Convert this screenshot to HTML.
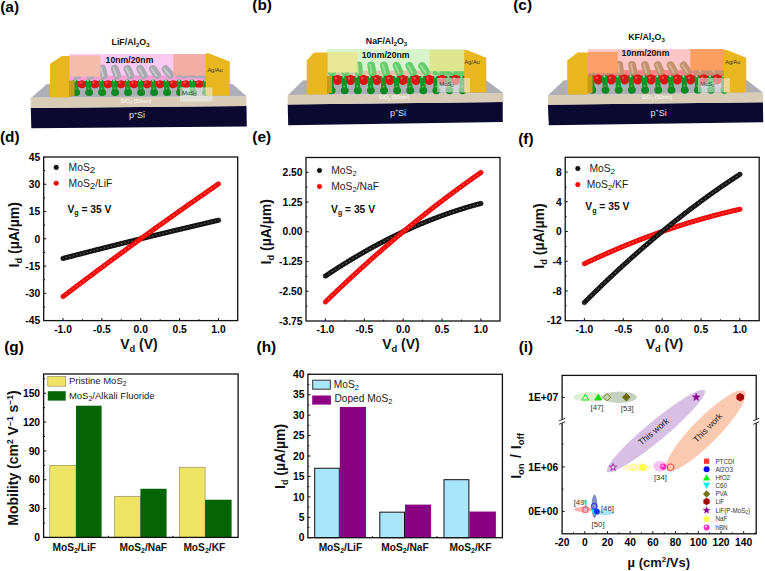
<!DOCTYPE html>
<html><head><meta charset="utf-8"><style>
html,body{margin:0;padding:0;background:#fff;width:765px;height:571px;overflow:hidden}
svg{display:block}
text{font-family:"Liberation Sans",sans-serif}
</style></head><body>
<svg width="765" height="571" viewBox="0 0 765 571">
<rect width="765" height="571" fill="#fff"/>
<text transform="translate(0.20,11.75) scale(1.1,1)" font-size="14" font-family="Liberation Sans" font-weight="bold" fill="#000">(a)</text>
<text transform="translate(252.30,10.10) scale(1.1,1)" font-size="14" font-family="Liberation Sans" font-weight="bold" fill="#000">(b)</text>
<text transform="translate(513.20,9.90) scale(1.1,1)" font-size="14" font-family="Liberation Sans" font-weight="bold" fill="#000">(c)</text>
<text transform="translate(-0.10,141.60) scale(1.1,1)" font-size="14" font-family="Liberation Sans" font-weight="bold" fill="#000">(d)</text>
<text transform="translate(252.30,141.70) scale(1.1,1)" font-size="14" font-family="Liberation Sans" font-weight="bold" fill="#000">(e)</text>
<text transform="translate(518.20,143.90) scale(1.1,1)" font-size="14" font-family="Liberation Sans" font-weight="bold" fill="#000">(f)</text>
<text transform="translate(4.20,351.60) scale(1.1,1)" font-size="14" font-family="Liberation Sans" font-weight="bold" fill="#000">(g)</text>
<text transform="translate(256.60,351.60) scale(1.1,1)" font-size="14" font-family="Liberation Sans" font-weight="bold" fill="#000">(h)</text>
<text transform="translate(518.70,351.60) scale(1.1,1)" font-size="14" font-family="Liberation Sans" font-weight="bold" fill="#000">(i)</text>
<polygon points="30.80,107.90 246.50,106.00 246.80,126.50 31.30,128.20" fill="#0c0930" />
<polygon points="30.80,97.60 246.50,96.30 246.50,106.00 30.80,107.90" fill="#d8ccb6" />
<polygon points="47.00,83.90 232.50,83.90 246.50,96.30 31.50,97.60" fill="#aeaeb6" />
<rect x="69.5" y="54.0" width="136.5" height="30.0" fill="#f9c9f2"/>
<rect x="69.5" y="75.5" width="144.0" height="5" fill="#f090c8" opacity="0.75"/>
<line x1="178" y1="74.5" x2="205" y2="76.0" stroke="#a9a9b2" stroke-width="5" stroke-linecap="round"/>
<g transform="translate(77.00,72.0) rotate(-5.0)"><rect x="-3.9" y="-7.5" width="7.8" height="15" rx="3.9" fill="#a9a9b2"/><rect x="-1.9" y="-5.6" width="2" height="10.5" rx="1" fill="#e0e0e8" opacity="0.55"/></g>
<g transform="translate(90.00,72.0) rotate(-10.0)"><rect x="-3.9" y="-7.5" width="7.8" height="15" rx="3.9" fill="#a9a9b2"/><rect x="-1.9" y="-5.6" width="2" height="10.5" rx="1" fill="#e0e0e8" opacity="0.55"/></g>
<g transform="translate(103.00,72.0) rotate(-15.0)"><rect x="-3.9" y="-7.5" width="7.8" height="15" rx="3.9" fill="#a9a9b2"/><rect x="-1.9" y="-5.6" width="2" height="10.5" rx="1" fill="#e0e0e8" opacity="0.55"/></g>
<g transform="translate(116.00,72.0) rotate(-20.0)"><rect x="-3.9" y="-7.5" width="7.8" height="15" rx="3.9" fill="#a9a9b2"/><rect x="-1.9" y="-5.6" width="2" height="10.5" rx="1" fill="#e0e0e8" opacity="0.55"/></g>
<g transform="translate(129.00,72.0) rotate(-25.0)"><rect x="-3.9" y="-7.5" width="7.8" height="15" rx="3.9" fill="#a9a9b2"/><rect x="-1.9" y="-5.6" width="2" height="10.5" rx="1" fill="#e0e0e8" opacity="0.55"/></g>
<g transform="translate(142.00,72.0) rotate(-30.0)"><rect x="-3.9" y="-7.5" width="7.8" height="15" rx="3.9" fill="#a9a9b2"/><rect x="-1.9" y="-5.6" width="2" height="10.5" rx="1" fill="#e0e0e8" opacity="0.55"/></g>
<g transform="translate(155.00,72.0) rotate(-35.0)"><rect x="-3.9" y="-7.5" width="7.8" height="15" rx="3.9" fill="#a9a9b2"/><rect x="-1.9" y="-5.6" width="2" height="10.5" rx="1" fill="#e0e0e8" opacity="0.55"/></g>
<g transform="translate(168.00,72.0) rotate(-40.0)"><rect x="-3.9" y="-7.5" width="7.8" height="15" rx="3.9" fill="#a9a9b2"/><rect x="-1.9" y="-5.6" width="2" height="10.5" rx="1" fill="#e0e0e8" opacity="0.55"/></g>
<g transform="translate(181.00,72.0) rotate(-45.0)"><rect x="-3.9" y="-7.5" width="7.8" height="15" rx="3.9" fill="#a9a9b2"/><rect x="-1.9" y="-5.6" width="2" height="10.5" rx="1" fill="#e0e0e8" opacity="0.55"/></g>
<g transform="translate(194.00,72.0) rotate(-50.0)"><rect x="-3.9" y="-7.5" width="7.8" height="15" rx="3.9" fill="#a9a9b2"/><rect x="-1.9" y="-5.6" width="2" height="10.5" rx="1" fill="#e0e0e8" opacity="0.55"/></g>
<g transform="translate(207.00,72.0) rotate(-55.0)"><rect x="-3.9" y="-7.5" width="7.8" height="15" rx="3.9" fill="#a9a9b2"/><rect x="-1.9" y="-5.6" width="2" height="10.5" rx="1" fill="#e0e0e8" opacity="0.55"/></g>
<rect x="70.5" y="81.0" width="142.0" height="5.5" rx="2" fill="#cc1010"/>
<ellipse cx="82.00" cy="84.2" rx="4.6" ry="4.0" fill="#d81414"/>
<circle cx="80.50" cy="82.5" r="1.2" fill="#f05050"/>
<ellipse cx="95.00" cy="84.2" rx="4.6" ry="4.0" fill="#d81414"/>
<circle cx="93.50" cy="82.5" r="1.2" fill="#f05050"/>
<ellipse cx="108.00" cy="84.2" rx="4.6" ry="4.0" fill="#d81414"/>
<circle cx="106.50" cy="82.5" r="1.2" fill="#f05050"/>
<ellipse cx="121.00" cy="84.2" rx="4.6" ry="4.0" fill="#d81414"/>
<circle cx="119.50" cy="82.5" r="1.2" fill="#f05050"/>
<ellipse cx="134.00" cy="84.2" rx="4.6" ry="4.0" fill="#d81414"/>
<circle cx="132.50" cy="82.5" r="1.2" fill="#f05050"/>
<ellipse cx="147.00" cy="84.2" rx="4.6" ry="4.0" fill="#d81414"/>
<circle cx="145.50" cy="82.5" r="1.2" fill="#f05050"/>
<ellipse cx="160.00" cy="84.2" rx="4.6" ry="4.0" fill="#d81414"/>
<circle cx="158.50" cy="82.5" r="1.2" fill="#f05050"/>
<ellipse cx="173.00" cy="84.2" rx="4.6" ry="4.0" fill="#d81414"/>
<circle cx="171.50" cy="82.5" r="1.2" fill="#f05050"/>
<ellipse cx="186.00" cy="84.2" rx="4.6" ry="4.0" fill="#d81414"/>
<circle cx="184.50" cy="82.5" r="1.2" fill="#f05050"/>
<ellipse cx="199.00" cy="84.2" rx="4.6" ry="4.0" fill="#d81414"/>
<circle cx="197.50" cy="82.5" r="1.2" fill="#f05050"/>
<ellipse cx="212.00" cy="84.2" rx="4.6" ry="4.0" fill="#d81414"/>
<circle cx="210.50" cy="82.5" r="1.2" fill="#f05050"/>
<line x1="75.20" y1="82.0" x2="76.00" y2="90.5" stroke="#139526" stroke-width="5.2" stroke-linecap="round"/>
<ellipse cx="76.10" cy="92.5" rx="4.0" ry="3.6" fill="#0f8a22"/>
<circle cx="75.70" cy="88.5" r="1" fill="#50c060" opacity="0.8"/>
<circle cx="74.90" cy="80.5" r="1.1" fill="#fff" opacity="0.6"/>
<line x1="88.20" y1="82.0" x2="89.00" y2="90.5" stroke="#139526" stroke-width="5.2" stroke-linecap="round"/>
<ellipse cx="89.10" cy="92.5" rx="4.0" ry="3.6" fill="#0f8a22"/>
<circle cx="88.70" cy="88.5" r="1" fill="#50c060" opacity="0.8"/>
<circle cx="87.90" cy="80.5" r="1.1" fill="#fff" opacity="0.6"/>
<line x1="101.20" y1="82.0" x2="102.00" y2="90.5" stroke="#139526" stroke-width="5.2" stroke-linecap="round"/>
<ellipse cx="102.10" cy="92.5" rx="4.0" ry="3.6" fill="#0f8a22"/>
<circle cx="101.70" cy="88.5" r="1" fill="#50c060" opacity="0.8"/>
<circle cx="100.90" cy="80.5" r="1.1" fill="#fff" opacity="0.6"/>
<line x1="114.20" y1="82.0" x2="115.00" y2="90.5" stroke="#139526" stroke-width="5.2" stroke-linecap="round"/>
<ellipse cx="115.10" cy="92.5" rx="4.0" ry="3.6" fill="#0f8a22"/>
<circle cx="114.70" cy="88.5" r="1" fill="#50c060" opacity="0.8"/>
<circle cx="113.90" cy="80.5" r="1.1" fill="#fff" opacity="0.6"/>
<line x1="127.20" y1="82.0" x2="128.00" y2="90.5" stroke="#139526" stroke-width="5.2" stroke-linecap="round"/>
<ellipse cx="128.10" cy="92.5" rx="4.0" ry="3.6" fill="#0f8a22"/>
<circle cx="127.70" cy="88.5" r="1" fill="#50c060" opacity="0.8"/>
<circle cx="126.90" cy="80.5" r="1.1" fill="#fff" opacity="0.6"/>
<line x1="140.20" y1="82.0" x2="141.00" y2="90.5" stroke="#139526" stroke-width="5.2" stroke-linecap="round"/>
<ellipse cx="141.10" cy="92.5" rx="4.0" ry="3.6" fill="#0f8a22"/>
<circle cx="140.70" cy="88.5" r="1" fill="#50c060" opacity="0.8"/>
<circle cx="139.90" cy="80.5" r="1.1" fill="#fff" opacity="0.6"/>
<line x1="153.20" y1="82.0" x2="154.00" y2="90.5" stroke="#139526" stroke-width="5.2" stroke-linecap="round"/>
<ellipse cx="154.10" cy="92.5" rx="4.0" ry="3.6" fill="#0f8a22"/>
<circle cx="153.70" cy="88.5" r="1" fill="#50c060" opacity="0.8"/>
<circle cx="152.90" cy="80.5" r="1.1" fill="#fff" opacity="0.6"/>
<line x1="166.20" y1="82.0" x2="167.00" y2="90.5" stroke="#139526" stroke-width="5.2" stroke-linecap="round"/>
<ellipse cx="167.10" cy="92.5" rx="4.0" ry="3.6" fill="#0f8a22"/>
<circle cx="166.70" cy="88.5" r="1" fill="#50c060" opacity="0.8"/>
<circle cx="165.90" cy="80.5" r="1.1" fill="#fff" opacity="0.6"/>
<line x1="179.20" y1="82.0" x2="180.00" y2="90.5" stroke="#139526" stroke-width="5.2" stroke-linecap="round"/>
<ellipse cx="180.10" cy="92.5" rx="4.0" ry="3.6" fill="#0f8a22"/>
<circle cx="179.70" cy="88.5" r="1" fill="#50c060" opacity="0.8"/>
<circle cx="178.90" cy="80.5" r="1.1" fill="#fff" opacity="0.6"/>
<line x1="192.20" y1="82.0" x2="193.00" y2="90.5" stroke="#139526" stroke-width="5.2" stroke-linecap="round"/>
<ellipse cx="193.10" cy="92.5" rx="4.0" ry="3.6" fill="#0f8a22"/>
<circle cx="192.70" cy="88.5" r="1" fill="#50c060" opacity="0.8"/>
<circle cx="191.90" cy="80.5" r="1.1" fill="#fff" opacity="0.6"/>
<line x1="205.20" y1="82.0" x2="206.00" y2="90.5" stroke="#139526" stroke-width="5.2" stroke-linecap="round"/>
<ellipse cx="206.10" cy="92.5" rx="4.0" ry="3.6" fill="#0f8a22"/>
<circle cx="205.70" cy="88.5" r="1" fill="#50c060" opacity="0.8"/>
<circle cx="204.90" cy="80.5" r="1.1" fill="#fff" opacity="0.6"/>
<rect x="69.3" y="55.5" width="31.10000000000001" height="21.0" fill="#f5bda9"/>
<rect x="173.3" y="54.1" width="33.19999999999999" height="21.699999999999996" fill="#f2aca2"/>
<polygon points="50.10,63.70 61.80,55.90 69.60,55.90 69.60,97.40 50.10,97.40" fill="#e8b61e" />
<polygon points="205.70,53.30 208.50,53.30 229.80,61.60 229.80,95.70 205.70,95.70" fill="#e8b61e" />
<polygon points="69.00,80.50 74.50,80.50 74.50,95.80 69.00,96.70" fill="#c99a12" />
<rect x="180.0" y="87.4" width="32.400000000000006" height="14.199999999999989" fill="#f0f0ee" opacity="0.55"/>
<text x="182.0" y="95.0" font-size="6" font-family="Liberation Sans" fill="#444">MoS<tspan font-size="4.2" dy="1.4">2</tspan></text>
<text x="207.4" y="72.3" font-size="5.6" font-family="Liberation Sans" fill="#333">Ag/Au</text>
<text x="136" y="103.0" font-size="5.6" font-family="Liberation Sans" fill="#fff" text-anchor="middle">SiO<tspan font-size="4" dy="1.2">2</tspan><tspan dy="-1.2"> (50nm)</tspan></text>
<text x="137.0" y="118.2" font-size="9" font-family="Liberation Sans" fill="#e4e2f4" text-anchor="middle">p<tspan font-size="5.5" dy="-3.3">+</tspan><tspan dy="3.3">Si</tspan></text>
<text x="130.5" y="45.2" font-size="8.8" font-family="Liberation Sans" font-weight="bold" fill="#111" text-anchor="middle">LiF/Al<tspan font-size="6" dy="2">2</tspan><tspan dy="-2">O</tspan><tspan font-size="6" dy="2">3</tspan></text>
<text x="129.5" y="62.6" font-size="8.7" font-family="Liberation Sans" font-weight="bold" fill="#111" text-anchor="middle">10nm/20nm</text>
<polygon points="287.70,104.60 502.70,102.10 502.80,122.10 288.20,125.20" fill="#0c0930" />
<polygon points="287.70,95.00 503.30,92.90 503.30,102.10 287.70,104.60" fill="#d8ccb6" />
<polygon points="303.30,80.20 486.00,80.20 503.30,92.90 288.00,95.00" fill="#aeaeb6" />
<rect x="327" y="49.0" width="138" height="32.0" fill="#d8f4cc"/>
<rect x="325.0" y="70.6" width="145.0" height="5" fill="#e0b8a0" opacity="0.75"/>
<line x1="435" y1="72.5" x2="466" y2="74.0" stroke="#66cc6c" stroke-width="5" stroke-linecap="round"/>
<g transform="translate(332.50,69.0) rotate(10.0)"><rect x="-3.9" y="-7.5" width="7.8" height="15" rx="3.9" fill="#66cc6c"/><rect x="-1.9" y="-5.6" width="2" height="10.5" rx="1" fill="#b8f0b8" opacity="0.55"/></g>
<g transform="translate(345.60,69.0) rotate(3.5)"><rect x="-3.9" y="-7.5" width="7.8" height="15" rx="3.9" fill="#66cc6c"/><rect x="-1.9" y="-5.6" width="2" height="10.5" rx="1" fill="#b8f0b8" opacity="0.55"/></g>
<g transform="translate(358.70,69.0) rotate(-3.0)"><rect x="-3.9" y="-7.5" width="7.8" height="15" rx="3.9" fill="#66cc6c"/><rect x="-1.9" y="-5.6" width="2" height="10.5" rx="1" fill="#b8f0b8" opacity="0.55"/></g>
<g transform="translate(371.80,69.0) rotate(-9.5)"><rect x="-3.9" y="-7.5" width="7.8" height="15" rx="3.9" fill="#66cc6c"/><rect x="-1.9" y="-5.6" width="2" height="10.5" rx="1" fill="#b8f0b8" opacity="0.55"/></g>
<g transform="translate(384.90,69.0) rotate(-16.0)"><rect x="-3.9" y="-7.5" width="7.8" height="15" rx="3.9" fill="#66cc6c"/><rect x="-1.9" y="-5.6" width="2" height="10.5" rx="1" fill="#b8f0b8" opacity="0.55"/></g>
<g transform="translate(398.00,69.0) rotate(-22.5)"><rect x="-3.9" y="-7.5" width="7.8" height="15" rx="3.9" fill="#66cc6c"/><rect x="-1.9" y="-5.6" width="2" height="10.5" rx="1" fill="#b8f0b8" opacity="0.55"/></g>
<g transform="translate(411.10,69.0) rotate(-29.0)"><rect x="-3.9" y="-7.5" width="7.8" height="15" rx="3.9" fill="#66cc6c"/><rect x="-1.9" y="-5.6" width="2" height="10.5" rx="1" fill="#b8f0b8" opacity="0.55"/></g>
<g transform="translate(424.20,69.0) rotate(-35.5)"><rect x="-3.9" y="-7.5" width="7.8" height="15" rx="3.9" fill="#66cc6c"/><rect x="-1.9" y="-5.6" width="2" height="10.5" rx="1" fill="#b8f0b8" opacity="0.55"/></g>
<g transform="translate(437.30,69.0) rotate(-42.0)"><rect x="-3.9" y="-7.5" width="7.8" height="15" rx="3.9" fill="#66cc6c"/><rect x="-1.9" y="-5.6" width="2" height="10.5" rx="1" fill="#b8f0b8" opacity="0.55"/></g>
<g transform="translate(450.40,69.0) rotate(-48.5)"><rect x="-3.9" y="-7.5" width="7.8" height="15" rx="3.9" fill="#66cc6c"/><rect x="-1.9" y="-5.6" width="2" height="10.5" rx="1" fill="#b8f0b8" opacity="0.55"/></g>
<g transform="translate(463.50,69.0) rotate(-55.0)"><rect x="-3.9" y="-7.5" width="7.8" height="15" rx="3.9" fill="#66cc6c"/><rect x="-1.9" y="-5.6" width="2" height="10.5" rx="1" fill="#b8f0b8" opacity="0.55"/></g>
<rect x="326.0" y="76.1" width="143.0" height="6.4" rx="2" fill="#cc1010"/>
<ellipse cx="337.50" cy="79.89999999999999" rx="4.6" ry="5.2" fill="#d81414"/>
<circle cx="336.00" cy="78.19999999999999" r="1.2" fill="#f05050"/>
<ellipse cx="350.60" cy="79.89999999999999" rx="4.6" ry="5.2" fill="#d81414"/>
<circle cx="349.10" cy="78.19999999999999" r="1.2" fill="#f05050"/>
<ellipse cx="363.70" cy="79.89999999999999" rx="4.6" ry="5.2" fill="#d81414"/>
<circle cx="362.20" cy="78.19999999999999" r="1.2" fill="#f05050"/>
<ellipse cx="376.80" cy="79.89999999999999" rx="4.6" ry="5.2" fill="#d81414"/>
<circle cx="375.30" cy="78.19999999999999" r="1.2" fill="#f05050"/>
<ellipse cx="389.90" cy="79.89999999999999" rx="4.6" ry="5.2" fill="#d81414"/>
<circle cx="388.40" cy="78.19999999999999" r="1.2" fill="#f05050"/>
<ellipse cx="403.00" cy="79.89999999999999" rx="4.6" ry="5.2" fill="#d81414"/>
<circle cx="401.50" cy="78.19999999999999" r="1.2" fill="#f05050"/>
<ellipse cx="416.10" cy="79.89999999999999" rx="4.6" ry="5.2" fill="#d81414"/>
<circle cx="414.60" cy="78.19999999999999" r="1.2" fill="#f05050"/>
<ellipse cx="429.20" cy="79.89999999999999" rx="4.6" ry="5.2" fill="#d81414"/>
<circle cx="427.70" cy="78.19999999999999" r="1.2" fill="#f05050"/>
<ellipse cx="442.30" cy="79.89999999999999" rx="4.6" ry="5.2" fill="#d81414"/>
<circle cx="440.80" cy="78.19999999999999" r="1.2" fill="#f05050"/>
<ellipse cx="455.40" cy="79.89999999999999" rx="4.6" ry="5.2" fill="#d81414"/>
<circle cx="453.90" cy="78.19999999999999" r="1.2" fill="#f05050"/>
<ellipse cx="468.50" cy="79.89999999999999" rx="4.6" ry="5.2" fill="#d81414"/>
<circle cx="467.00" cy="78.19999999999999" r="1.2" fill="#f05050"/>
<line x1="330.70" y1="78.3" x2="331.50" y2="88.6" stroke="#139526" stroke-width="5.2" stroke-linecap="round"/>
<ellipse cx="331.60" cy="90.6" rx="4.0" ry="3.6" fill="#0f8a22"/>
<circle cx="331.20" cy="86.6" r="1" fill="#50c060" opacity="0.8"/>
<circle cx="330.40" cy="76.8" r="1.1" fill="#fff" opacity="0.6"/>
<line x1="343.80" y1="78.3" x2="344.60" y2="88.6" stroke="#139526" stroke-width="5.2" stroke-linecap="round"/>
<ellipse cx="344.70" cy="90.6" rx="4.0" ry="3.6" fill="#0f8a22"/>
<circle cx="344.30" cy="86.6" r="1" fill="#50c060" opacity="0.8"/>
<circle cx="343.50" cy="76.8" r="1.1" fill="#fff" opacity="0.6"/>
<line x1="356.90" y1="78.3" x2="357.70" y2="88.6" stroke="#139526" stroke-width="5.2" stroke-linecap="round"/>
<ellipse cx="357.80" cy="90.6" rx="4.0" ry="3.6" fill="#0f8a22"/>
<circle cx="357.40" cy="86.6" r="1" fill="#50c060" opacity="0.8"/>
<circle cx="356.60" cy="76.8" r="1.1" fill="#fff" opacity="0.6"/>
<line x1="370.00" y1="78.3" x2="370.80" y2="88.6" stroke="#139526" stroke-width="5.2" stroke-linecap="round"/>
<ellipse cx="370.90" cy="90.6" rx="4.0" ry="3.6" fill="#0f8a22"/>
<circle cx="370.50" cy="86.6" r="1" fill="#50c060" opacity="0.8"/>
<circle cx="369.70" cy="76.8" r="1.1" fill="#fff" opacity="0.6"/>
<line x1="383.10" y1="78.3" x2="383.90" y2="88.6" stroke="#139526" stroke-width="5.2" stroke-linecap="round"/>
<ellipse cx="384.00" cy="90.6" rx="4.0" ry="3.6" fill="#0f8a22"/>
<circle cx="383.60" cy="86.6" r="1" fill="#50c060" opacity="0.8"/>
<circle cx="382.80" cy="76.8" r="1.1" fill="#fff" opacity="0.6"/>
<line x1="396.20" y1="78.3" x2="397.00" y2="88.6" stroke="#139526" stroke-width="5.2" stroke-linecap="round"/>
<ellipse cx="397.10" cy="90.6" rx="4.0" ry="3.6" fill="#0f8a22"/>
<circle cx="396.70" cy="86.6" r="1" fill="#50c060" opacity="0.8"/>
<circle cx="395.90" cy="76.8" r="1.1" fill="#fff" opacity="0.6"/>
<line x1="409.30" y1="78.3" x2="410.10" y2="88.6" stroke="#139526" stroke-width="5.2" stroke-linecap="round"/>
<ellipse cx="410.20" cy="90.6" rx="4.0" ry="3.6" fill="#0f8a22"/>
<circle cx="409.80" cy="86.6" r="1" fill="#50c060" opacity="0.8"/>
<circle cx="409.00" cy="76.8" r="1.1" fill="#fff" opacity="0.6"/>
<line x1="422.40" y1="78.3" x2="423.20" y2="88.6" stroke="#139526" stroke-width="5.2" stroke-linecap="round"/>
<ellipse cx="423.30" cy="90.6" rx="4.0" ry="3.6" fill="#0f8a22"/>
<circle cx="422.90" cy="86.6" r="1" fill="#50c060" opacity="0.8"/>
<circle cx="422.10" cy="76.8" r="1.1" fill="#fff" opacity="0.6"/>
<line x1="435.50" y1="78.3" x2="436.30" y2="88.6" stroke="#139526" stroke-width="5.2" stroke-linecap="round"/>
<ellipse cx="436.40" cy="90.6" rx="4.0" ry="3.6" fill="#0f8a22"/>
<circle cx="436.00" cy="86.6" r="1" fill="#50c060" opacity="0.8"/>
<circle cx="435.20" cy="76.8" r="1.1" fill="#fff" opacity="0.6"/>
<line x1="448.60" y1="78.3" x2="449.40" y2="88.6" stroke="#139526" stroke-width="5.2" stroke-linecap="round"/>
<ellipse cx="449.50" cy="90.6" rx="4.0" ry="3.6" fill="#0f8a22"/>
<circle cx="449.10" cy="86.6" r="1" fill="#50c060" opacity="0.8"/>
<circle cx="448.30" cy="76.8" r="1.1" fill="#fff" opacity="0.6"/>
<line x1="461.70" y1="78.3" x2="462.50" y2="88.6" stroke="#139526" stroke-width="5.2" stroke-linecap="round"/>
<ellipse cx="462.60" cy="90.6" rx="4.0" ry="3.6" fill="#0f8a22"/>
<circle cx="462.20" cy="86.6" r="1" fill="#50c060" opacity="0.8"/>
<circle cx="461.40" cy="76.8" r="1.1" fill="#fff" opacity="0.6"/>
<rect x="327.2" y="52.0" width="30.30000000000001" height="20.5" fill="#e7e795"/>
<rect x="429.5" y="50.0" width="34.89999999999998" height="21.200000000000003" fill="#dde58e"/>
<polygon points="306.70,60.40 314.00,52.50 327.60,52.50 327.60,94.50 306.70,94.50" fill="#e8b61e" />
<polygon points="464.20,50.00 467.00,50.00 486.30,57.80 486.30,92.40 464.20,92.40" fill="#e8b61e" />
<polygon points="327.00,76.00 332.00,76.00 332.00,92.80 327.00,93.40" fill="#c99a12" />
<rect x="437.2" y="78.0" width="32.80000000000001" height="14.400000000000006" fill="#f0f0ee" opacity="0.55"/>
<text x="439.2" y="85.6" font-size="6" font-family="Liberation Sans" fill="#444">MoS<tspan font-size="4.2" dy="1.4">2</tspan></text>
<text x="464.5" y="64.2" font-size="5.6" font-family="Liberation Sans" fill="#333">Ag/Au</text>
<text x="394.2" y="99.3" font-size="5.6" font-family="Liberation Sans" fill="#fff" text-anchor="middle">SiO<tspan font-size="4" dy="1.2">2</tspan><tspan dy="-1.2"> (50nm)</tspan></text>
<text x="398.0" y="115.6" font-size="9" font-family="Liberation Sans" fill="#e4e2f4" text-anchor="middle">p<tspan font-size="5.5" dy="-3.3">+</tspan><tspan dy="3.3">Si</tspan></text>
<text x="386.5" y="44.2" font-size="8.8" font-family="Liberation Sans" font-weight="bold" fill="#111" text-anchor="middle">NaF/Al<tspan font-size="6" dy="2">2</tspan><tspan dy="-2">O</tspan><tspan font-size="6" dy="2">3</tspan></text>
<text x="385.6" y="57.8" font-size="8.7" font-family="Liberation Sans" font-weight="bold" fill="#111" text-anchor="middle">10nm/20nm</text>
<polygon points="547.90,104.80 762.90,102.20 763.20,122.30 548.80,125.20" fill="#0c0930" />
<polygon points="547.90,95.30 762.90,92.60 762.90,102.20 547.90,104.80" fill="#d8ccb6" />
<polygon points="563.90,80.20 747.00,80.20 762.90,92.60 548.00,95.30" fill="#aeaeb6" />
<rect x="588" y="49.2" width="137" height="31.799999999999997" fill="#fdc6c6"/>
<rect x="585.7" y="70.1" width="146.0" height="5" fill="#f07070" opacity="0.75"/>
<line x1="696" y1="72.0" x2="726" y2="73.5" stroke="#c49070" stroke-width="5" stroke-linecap="round"/>
<g transform="translate(593.20,68.4) rotate(5.0)"><rect x="-3.9" y="-7.5" width="7.8" height="15" rx="3.9" fill="#c49070"/><rect x="-1.9" y="-5.6" width="2" height="10.5" rx="1" fill="#e8c8b0" opacity="0.55"/></g>
<g transform="translate(606.40,68.4) rotate(-0.5)"><rect x="-3.9" y="-7.5" width="7.8" height="15" rx="3.9" fill="#c49070"/><rect x="-1.9" y="-5.6" width="2" height="10.5" rx="1" fill="#e8c8b0" opacity="0.55"/></g>
<g transform="translate(619.60,68.4) rotate(-6.0)"><rect x="-3.9" y="-7.5" width="7.8" height="15" rx="3.9" fill="#c49070"/><rect x="-1.9" y="-5.6" width="2" height="10.5" rx="1" fill="#e8c8b0" opacity="0.55"/></g>
<g transform="translate(632.80,68.4) rotate(-11.5)"><rect x="-3.9" y="-7.5" width="7.8" height="15" rx="3.9" fill="#c49070"/><rect x="-1.9" y="-5.6" width="2" height="10.5" rx="1" fill="#e8c8b0" opacity="0.55"/></g>
<g transform="translate(646.00,68.4) rotate(-17.0)"><rect x="-3.9" y="-7.5" width="7.8" height="15" rx="3.9" fill="#c49070"/><rect x="-1.9" y="-5.6" width="2" height="10.5" rx="1" fill="#e8c8b0" opacity="0.55"/></g>
<g transform="translate(659.20,68.4) rotate(-22.5)"><rect x="-3.9" y="-7.5" width="7.8" height="15" rx="3.9" fill="#c49070"/><rect x="-1.9" y="-5.6" width="2" height="10.5" rx="1" fill="#e8c8b0" opacity="0.55"/></g>
<g transform="translate(672.40,68.4) rotate(-28.0)"><rect x="-3.9" y="-7.5" width="7.8" height="15" rx="3.9" fill="#c49070"/><rect x="-1.9" y="-5.6" width="2" height="10.5" rx="1" fill="#e8c8b0" opacity="0.55"/></g>
<g transform="translate(685.60,68.4) rotate(-33.5)"><rect x="-3.9" y="-7.5" width="7.8" height="15" rx="3.9" fill="#c49070"/><rect x="-1.9" y="-5.6" width="2" height="10.5" rx="1" fill="#e8c8b0" opacity="0.55"/></g>
<g transform="translate(698.80,68.4) rotate(-39.0)"><rect x="-3.9" y="-7.5" width="7.8" height="15" rx="3.9" fill="#c49070"/><rect x="-1.9" y="-5.6" width="2" height="10.5" rx="1" fill="#e8c8b0" opacity="0.55"/></g>
<g transform="translate(712.00,68.4) rotate(-44.5)"><rect x="-3.9" y="-7.5" width="7.8" height="15" rx="3.9" fill="#c49070"/><rect x="-1.9" y="-5.6" width="2" height="10.5" rx="1" fill="#e8c8b0" opacity="0.55"/></g>
<g transform="translate(725.20,68.4) rotate(-50.0)"><rect x="-3.9" y="-7.5" width="7.8" height="15" rx="3.9" fill="#c49070"/><rect x="-1.9" y="-5.6" width="2" height="10.5" rx="1" fill="#e8c8b0" opacity="0.55"/></g>
<rect x="586.7" y="75.6" width="144.0" height="6.4" rx="2" fill="#cc1010"/>
<ellipse cx="598.20" cy="79.39999999999999" rx="4.6" ry="5.2" fill="#d81414"/>
<circle cx="596.70" cy="77.69999999999999" r="1.2" fill="#f05050"/>
<ellipse cx="611.40" cy="79.39999999999999" rx="4.6" ry="5.2" fill="#d81414"/>
<circle cx="609.90" cy="77.69999999999999" r="1.2" fill="#f05050"/>
<ellipse cx="624.60" cy="79.39999999999999" rx="4.6" ry="5.2" fill="#d81414"/>
<circle cx="623.10" cy="77.69999999999999" r="1.2" fill="#f05050"/>
<ellipse cx="637.80" cy="79.39999999999999" rx="4.6" ry="5.2" fill="#d81414"/>
<circle cx="636.30" cy="77.69999999999999" r="1.2" fill="#f05050"/>
<ellipse cx="651.00" cy="79.39999999999999" rx="4.6" ry="5.2" fill="#d81414"/>
<circle cx="649.50" cy="77.69999999999999" r="1.2" fill="#f05050"/>
<ellipse cx="664.20" cy="79.39999999999999" rx="4.6" ry="5.2" fill="#d81414"/>
<circle cx="662.70" cy="77.69999999999999" r="1.2" fill="#f05050"/>
<ellipse cx="677.40" cy="79.39999999999999" rx="4.6" ry="5.2" fill="#d81414"/>
<circle cx="675.90" cy="77.69999999999999" r="1.2" fill="#f05050"/>
<ellipse cx="690.60" cy="79.39999999999999" rx="4.6" ry="5.2" fill="#d81414"/>
<circle cx="689.10" cy="77.69999999999999" r="1.2" fill="#f05050"/>
<ellipse cx="703.80" cy="79.39999999999999" rx="4.6" ry="5.2" fill="#d81414"/>
<circle cx="702.30" cy="77.69999999999999" r="1.2" fill="#f05050"/>
<ellipse cx="717.00" cy="79.39999999999999" rx="4.6" ry="5.2" fill="#d81414"/>
<circle cx="715.50" cy="77.69999999999999" r="1.2" fill="#f05050"/>
<ellipse cx="730.20" cy="79.39999999999999" rx="4.6" ry="5.2" fill="#d81414"/>
<circle cx="728.70" cy="77.69999999999999" r="1.2" fill="#f05050"/>
<line x1="591.40" y1="77.8" x2="592.20" y2="88.1" stroke="#139526" stroke-width="5.2" stroke-linecap="round"/>
<ellipse cx="592.30" cy="90.1" rx="4.0" ry="3.6" fill="#0f8a22"/>
<circle cx="591.90" cy="86.1" r="1" fill="#50c060" opacity="0.8"/>
<circle cx="591.10" cy="76.3" r="1.1" fill="#fff" opacity="0.6"/>
<line x1="604.60" y1="77.8" x2="605.40" y2="88.1" stroke="#139526" stroke-width="5.2" stroke-linecap="round"/>
<ellipse cx="605.50" cy="90.1" rx="4.0" ry="3.6" fill="#0f8a22"/>
<circle cx="605.10" cy="86.1" r="1" fill="#50c060" opacity="0.8"/>
<circle cx="604.30" cy="76.3" r="1.1" fill="#fff" opacity="0.6"/>
<line x1="617.80" y1="77.8" x2="618.60" y2="88.1" stroke="#139526" stroke-width="5.2" stroke-linecap="round"/>
<ellipse cx="618.70" cy="90.1" rx="4.0" ry="3.6" fill="#0f8a22"/>
<circle cx="618.30" cy="86.1" r="1" fill="#50c060" opacity="0.8"/>
<circle cx="617.50" cy="76.3" r="1.1" fill="#fff" opacity="0.6"/>
<line x1="631.00" y1="77.8" x2="631.80" y2="88.1" stroke="#139526" stroke-width="5.2" stroke-linecap="round"/>
<ellipse cx="631.90" cy="90.1" rx="4.0" ry="3.6" fill="#0f8a22"/>
<circle cx="631.50" cy="86.1" r="1" fill="#50c060" opacity="0.8"/>
<circle cx="630.70" cy="76.3" r="1.1" fill="#fff" opacity="0.6"/>
<line x1="644.20" y1="77.8" x2="645.00" y2="88.1" stroke="#139526" stroke-width="5.2" stroke-linecap="round"/>
<ellipse cx="645.10" cy="90.1" rx="4.0" ry="3.6" fill="#0f8a22"/>
<circle cx="644.70" cy="86.1" r="1" fill="#50c060" opacity="0.8"/>
<circle cx="643.90" cy="76.3" r="1.1" fill="#fff" opacity="0.6"/>
<line x1="657.40" y1="77.8" x2="658.20" y2="88.1" stroke="#139526" stroke-width="5.2" stroke-linecap="round"/>
<ellipse cx="658.30" cy="90.1" rx="4.0" ry="3.6" fill="#0f8a22"/>
<circle cx="657.90" cy="86.1" r="1" fill="#50c060" opacity="0.8"/>
<circle cx="657.10" cy="76.3" r="1.1" fill="#fff" opacity="0.6"/>
<line x1="670.60" y1="77.8" x2="671.40" y2="88.1" stroke="#139526" stroke-width="5.2" stroke-linecap="round"/>
<ellipse cx="671.50" cy="90.1" rx="4.0" ry="3.6" fill="#0f8a22"/>
<circle cx="671.10" cy="86.1" r="1" fill="#50c060" opacity="0.8"/>
<circle cx="670.30" cy="76.3" r="1.1" fill="#fff" opacity="0.6"/>
<line x1="683.80" y1="77.8" x2="684.60" y2="88.1" stroke="#139526" stroke-width="5.2" stroke-linecap="round"/>
<ellipse cx="684.70" cy="90.1" rx="4.0" ry="3.6" fill="#0f8a22"/>
<circle cx="684.30" cy="86.1" r="1" fill="#50c060" opacity="0.8"/>
<circle cx="683.50" cy="76.3" r="1.1" fill="#fff" opacity="0.6"/>
<line x1="697.00" y1="77.8" x2="697.80" y2="88.1" stroke="#139526" stroke-width="5.2" stroke-linecap="round"/>
<ellipse cx="697.90" cy="90.1" rx="4.0" ry="3.6" fill="#0f8a22"/>
<circle cx="697.50" cy="86.1" r="1" fill="#50c060" opacity="0.8"/>
<circle cx="696.70" cy="76.3" r="1.1" fill="#fff" opacity="0.6"/>
<line x1="710.20" y1="77.8" x2="711.00" y2="88.1" stroke="#139526" stroke-width="5.2" stroke-linecap="round"/>
<ellipse cx="711.10" cy="90.1" rx="4.0" ry="3.6" fill="#0f8a22"/>
<circle cx="710.70" cy="86.1" r="1" fill="#50c060" opacity="0.8"/>
<circle cx="709.90" cy="76.3" r="1.1" fill="#fff" opacity="0.6"/>
<line x1="723.40" y1="77.8" x2="724.20" y2="88.1" stroke="#139526" stroke-width="5.2" stroke-linecap="round"/>
<ellipse cx="724.30" cy="90.1" rx="4.0" ry="3.6" fill="#0f8a22"/>
<circle cx="723.90" cy="86.1" r="1" fill="#50c060" opacity="0.8"/>
<circle cx="723.10" cy="76.3" r="1.1" fill="#fff" opacity="0.6"/>
<rect x="587.8" y="52.0" width="29.90000000000009" height="21.200000000000003" fill="#fb9f68"/>
<rect x="690.3" y="49.1" width="33.700000000000045" height="21.199999999999996" fill="#fb9e62"/>
<polygon points="567.20,60.40 577.60,52.50 588.00,52.50 588.00,94.50 567.20,94.50" fill="#e8b61e" />
<polygon points="724.00,50.00 727.00,50.00 746.20,57.80 746.20,92.40 724.00,92.40" fill="#e8b61e" />
<polygon points="587.50,76.00 592.50,76.00 592.50,92.80 587.50,93.40" fill="#c99a12" />
<rect x="698.0" y="78.0" width="31.799999999999955" height="14.400000000000006" fill="#f0f0ee" opacity="0.55"/>
<text x="700.0" y="85.6" font-size="6" font-family="Liberation Sans" fill="#444">MoS<tspan font-size="4.2" dy="1.4">2</tspan></text>
<text x="725.2" y="64.2" font-size="5.6" font-family="Liberation Sans" fill="#333">Ag/Au</text>
<text x="657" y="99.0" font-size="5.6" font-family="Liberation Sans" fill="#fff" text-anchor="middle">SiO<tspan font-size="4" dy="1.2">2</tspan><tspan dy="-1.2"> (50nm)</tspan></text>
<text x="658.7" y="115.6" font-size="9" font-family="Liberation Sans" fill="#e4e2f4" text-anchor="middle">p<tspan font-size="5.5" dy="-3.3">+</tspan><tspan dy="3.3">Si</tspan></text>
<text x="646.5" y="40.2" font-size="8.8" font-family="Liberation Sans" font-weight="bold" fill="#111" text-anchor="middle">KF/Al<tspan font-size="6" dy="2">2</tspan><tspan dy="-2">O</tspan><tspan font-size="6" dy="2">3</tspan></text>
<text x="645.5" y="55.8" font-size="8.7" font-family="Liberation Sans" font-weight="bold" fill="#111" text-anchor="middle">10nm/20nm</text>
<rect x="43.7" y="157.0" width="194.0" height="163.60000000000002" fill="none" stroke="#111" stroke-width="1.3"/>
<line x1="63.00" y1="320.6" x2="63.00" y2="318.0" stroke="#111" stroke-width="1"/>
<line x1="82.44" y1="320.6" x2="82.44" y2="319.20000000000005" stroke="#111" stroke-width="1"/>
<line x1="101.88" y1="320.6" x2="101.88" y2="318.0" stroke="#111" stroke-width="1"/>
<line x1="121.31" y1="320.6" x2="121.31" y2="319.20000000000005" stroke="#111" stroke-width="1"/>
<line x1="140.75" y1="320.6" x2="140.75" y2="318.0" stroke="#111" stroke-width="1"/>
<line x1="160.19" y1="320.6" x2="160.19" y2="319.20000000000005" stroke="#111" stroke-width="1"/>
<line x1="179.62" y1="320.6" x2="179.62" y2="318.0" stroke="#111" stroke-width="1"/>
<line x1="199.06" y1="320.6" x2="199.06" y2="319.20000000000005" stroke="#111" stroke-width="1"/>
<line x1="218.50" y1="320.6" x2="218.50" y2="318.0" stroke="#111" stroke-width="1"/>
<text x="63.00" y="332.90" font-size="10.3" font-family="Liberation Sans" font-weight="bold" text-anchor="middle" fill="#000" >-1.0</text>
<text x="101.88" y="332.90" font-size="10.3" font-family="Liberation Sans" font-weight="bold" text-anchor="middle" fill="#000" >-0.5</text>
<text x="140.75" y="332.90" font-size="10.3" font-family="Liberation Sans" font-weight="bold" text-anchor="middle" fill="#000" >0.0</text>
<text x="179.62" y="332.90" font-size="10.3" font-family="Liberation Sans" font-weight="bold" text-anchor="middle" fill="#000" >0.5</text>
<text x="218.50" y="332.90" font-size="10.3" font-family="Liberation Sans" font-weight="bold" text-anchor="middle" fill="#000" >1.0</text>
<text x="40.20" y="160.70" font-size="10.3" font-family="Liberation Sans" font-weight="bold" text-anchor="end" fill="#000" >45</text>
<line x1="43.7" y1="170.63" x2="45.1" y2="170.63" stroke="#111" stroke-width="1"/>
<line x1="43.7" y1="184.27" x2="46.300000000000004" y2="184.27" stroke="#111" stroke-width="1"/>
<text x="40.20" y="187.97" font-size="10.3" font-family="Liberation Sans" font-weight="bold" text-anchor="end" fill="#000" >30</text>
<line x1="43.7" y1="197.90" x2="45.1" y2="197.90" stroke="#111" stroke-width="1"/>
<line x1="43.7" y1="211.53" x2="46.300000000000004" y2="211.53" stroke="#111" stroke-width="1"/>
<text x="40.20" y="215.23" font-size="10.3" font-family="Liberation Sans" font-weight="bold" text-anchor="end" fill="#000" >15</text>
<line x1="43.7" y1="225.17" x2="45.1" y2="225.17" stroke="#111" stroke-width="1"/>
<line x1="43.7" y1="238.80" x2="46.300000000000004" y2="238.80" stroke="#111" stroke-width="1"/>
<text x="40.20" y="242.50" font-size="10.3" font-family="Liberation Sans" font-weight="bold" text-anchor="end" fill="#000" >0</text>
<line x1="43.7" y1="252.43" x2="45.1" y2="252.43" stroke="#111" stroke-width="1"/>
<line x1="43.7" y1="266.07" x2="46.300000000000004" y2="266.07" stroke="#111" stroke-width="1"/>
<text x="40.20" y="269.77" font-size="10.3" font-family="Liberation Sans" font-weight="bold" text-anchor="end" fill="#000" >-15</text>
<line x1="43.7" y1="279.70" x2="45.1" y2="279.70" stroke="#111" stroke-width="1"/>
<line x1="43.7" y1="293.33" x2="46.300000000000004" y2="293.33" stroke="#111" stroke-width="1"/>
<text x="40.20" y="297.03" font-size="10.3" font-family="Liberation Sans" font-weight="bold" text-anchor="end" fill="#000" >-30</text>
<line x1="43.7" y1="306.97" x2="45.1" y2="306.97" stroke="#111" stroke-width="1"/>
<text x="40.20" y="324.30" font-size="10.3" font-family="Liberation Sans" font-weight="bold" text-anchor="end" fill="#000" >-45</text>
<g fill="#222" stroke="#000" stroke-width="0.6"><circle cx="63.00" cy="258.43" r="2.25"/><circle cx="64.73" cy="257.98" r="2.25"/><circle cx="66.46" cy="257.54" r="2.25"/><circle cx="68.18" cy="257.09" r="2.25"/><circle cx="69.91" cy="256.64" r="2.25"/><circle cx="71.64" cy="256.20" r="2.25"/><circle cx="73.37" cy="255.75" r="2.25"/><circle cx="75.09" cy="255.31" r="2.25"/><circle cx="76.82" cy="254.86" r="2.25"/><circle cx="78.55" cy="254.42" r="2.25"/><circle cx="80.28" cy="253.98" r="2.25"/><circle cx="82.01" cy="253.53" r="2.25"/><circle cx="83.73" cy="253.09" r="2.25"/><circle cx="85.46" cy="252.65" r="2.25"/><circle cx="87.19" cy="252.21" r="2.25"/><circle cx="88.92" cy="251.77" r="2.25"/><circle cx="90.64" cy="251.33" r="2.25"/><circle cx="92.37" cy="250.89" r="2.25"/><circle cx="94.10" cy="250.45" r="2.25"/><circle cx="95.83" cy="250.01" r="2.25"/><circle cx="97.56" cy="249.57" r="2.25"/><circle cx="99.28" cy="249.13" r="2.25"/><circle cx="101.01" cy="248.70" r="2.25"/><circle cx="102.74" cy="248.26" r="2.25"/><circle cx="104.47" cy="247.83" r="2.25"/><circle cx="106.19" cy="247.39" r="2.25"/><circle cx="107.92" cy="246.96" r="2.25"/><circle cx="109.65" cy="246.52" r="2.25"/><circle cx="111.38" cy="246.09" r="2.25"/><circle cx="113.11" cy="245.66" r="2.25"/><circle cx="114.83" cy="245.22" r="2.25"/><circle cx="116.56" cy="244.79" r="2.25"/><circle cx="118.29" cy="244.36" r="2.25"/><circle cx="120.02" cy="243.93" r="2.25"/><circle cx="121.74" cy="243.50" r="2.25"/><circle cx="123.47" cy="243.07" r="2.25"/><circle cx="125.20" cy="242.64" r="2.25"/><circle cx="126.93" cy="242.21" r="2.25"/><circle cx="128.66" cy="241.78" r="2.25"/><circle cx="130.38" cy="241.35" r="2.25"/><circle cx="132.11" cy="240.93" r="2.25"/><circle cx="133.84" cy="240.50" r="2.25"/><circle cx="135.57" cy="240.07" r="2.25"/><circle cx="137.29" cy="239.65" r="2.25"/><circle cx="139.02" cy="239.22" r="2.25"/><circle cx="140.75" cy="238.80" r="2.25"/><circle cx="142.48" cy="238.38" r="2.25"/><circle cx="144.21" cy="237.95" r="2.25"/><circle cx="145.93" cy="237.53" r="2.25"/><circle cx="147.66" cy="237.11" r="2.25"/><circle cx="149.39" cy="236.69" r="2.25"/><circle cx="151.12" cy="236.26" r="2.25"/><circle cx="152.84" cy="235.84" r="2.25"/><circle cx="154.57" cy="235.42" r="2.25"/><circle cx="156.30" cy="235.00" r="2.25"/><circle cx="158.03" cy="234.59" r="2.25"/><circle cx="159.76" cy="234.17" r="2.25"/><circle cx="161.48" cy="233.75" r="2.25"/><circle cx="163.21" cy="233.33" r="2.25"/><circle cx="164.94" cy="232.91" r="2.25"/><circle cx="166.67" cy="232.50" r="2.25"/><circle cx="168.39" cy="232.08" r="2.25"/><circle cx="170.12" cy="231.67" r="2.25"/><circle cx="171.85" cy="231.25" r="2.25"/><circle cx="173.58" cy="230.84" r="2.25"/><circle cx="175.31" cy="230.42" r="2.25"/><circle cx="177.03" cy="230.01" r="2.25"/><circle cx="178.76" cy="229.60" r="2.25"/><circle cx="180.49" cy="229.19" r="2.25"/><circle cx="182.22" cy="228.78" r="2.25"/><circle cx="183.94" cy="228.36" r="2.25"/><circle cx="185.67" cy="227.95" r="2.25"/><circle cx="187.40" cy="227.54" r="2.25"/><circle cx="189.13" cy="227.13" r="2.25"/><circle cx="190.86" cy="226.73" r="2.25"/><circle cx="192.58" cy="226.32" r="2.25"/><circle cx="194.31" cy="225.91" r="2.25"/><circle cx="196.04" cy="225.50" r="2.25"/><circle cx="197.77" cy="225.10" r="2.25"/><circle cx="199.49" cy="224.69" r="2.25"/><circle cx="201.22" cy="224.28" r="2.25"/><circle cx="202.95" cy="223.88" r="2.25"/><circle cx="204.68" cy="223.48" r="2.25"/><circle cx="206.41" cy="223.07" r="2.25"/><circle cx="208.13" cy="222.67" r="2.25"/><circle cx="209.86" cy="222.26" r="2.25"/><circle cx="211.59" cy="221.86" r="2.25"/><circle cx="213.32" cy="221.46" r="2.25"/><circle cx="215.04" cy="221.06" r="2.25"/><circle cx="216.77" cy="220.66" r="2.25"/><circle cx="218.50" cy="220.26" r="2.25"/></g>
<g fill="#9a9a9a" opacity="0.8"><circle cx="66.46" cy="257.54" r="0.55"/><circle cx="69.91" cy="256.64" r="0.55"/><circle cx="73.37" cy="255.75" r="0.55"/><circle cx="76.82" cy="254.86" r="0.55"/><circle cx="80.28" cy="253.98" r="0.55"/><circle cx="83.73" cy="253.09" r="0.55"/><circle cx="87.19" cy="252.21" r="0.55"/><circle cx="90.64" cy="251.33" r="0.55"/><circle cx="94.10" cy="250.45" r="0.55"/><circle cx="97.56" cy="249.57" r="0.55"/><circle cx="101.01" cy="248.70" r="0.55"/><circle cx="104.47" cy="247.83" r="0.55"/><circle cx="107.92" cy="246.96" r="0.55"/><circle cx="111.38" cy="246.09" r="0.55"/><circle cx="114.83" cy="245.22" r="0.55"/><circle cx="118.29" cy="244.36" r="0.55"/><circle cx="121.74" cy="243.50" r="0.55"/><circle cx="125.20" cy="242.64" r="0.55"/><circle cx="128.66" cy="241.78" r="0.55"/><circle cx="132.11" cy="240.93" r="0.55"/><circle cx="135.57" cy="240.07" r="0.55"/><circle cx="139.02" cy="239.22" r="0.55"/><circle cx="142.48" cy="238.38" r="0.55"/><circle cx="145.93" cy="237.53" r="0.55"/><circle cx="149.39" cy="236.69" r="0.55"/><circle cx="152.84" cy="235.84" r="0.55"/><circle cx="156.30" cy="235.00" r="0.55"/><circle cx="159.76" cy="234.17" r="0.55"/><circle cx="163.21" cy="233.33" r="0.55"/><circle cx="166.67" cy="232.50" r="0.55"/><circle cx="170.12" cy="231.67" r="0.55"/><circle cx="173.58" cy="230.84" r="0.55"/><circle cx="177.03" cy="230.01" r="0.55"/><circle cx="180.49" cy="229.19" r="0.55"/><circle cx="183.94" cy="228.36" r="0.55"/><circle cx="187.40" cy="227.54" r="0.55"/><circle cx="190.86" cy="226.73" r="0.55"/><circle cx="194.31" cy="225.91" r="0.55"/><circle cx="197.77" cy="225.10" r="0.55"/><circle cx="201.22" cy="224.28" r="0.55"/><circle cx="204.68" cy="223.48" r="0.55"/><circle cx="208.13" cy="222.67" r="0.55"/><circle cx="211.59" cy="221.86" r="0.55"/><circle cx="215.04" cy="221.06" r="0.55"/></g>
<g fill="#ff1010" stroke="#e00000" stroke-width="0.6"><circle cx="63.00" cy="296.61" r="2.25"/><circle cx="64.73" cy="295.29" r="2.25"/><circle cx="66.46" cy="293.97" r="2.25"/><circle cx="68.18" cy="292.66" r="2.25"/><circle cx="69.91" cy="291.35" r="2.25"/><circle cx="71.64" cy="290.04" r="2.25"/><circle cx="73.37" cy="288.73" r="2.25"/><circle cx="75.09" cy="287.42" r="2.25"/><circle cx="76.82" cy="286.12" r="2.25"/><circle cx="78.55" cy="284.81" r="2.25"/><circle cx="80.28" cy="283.51" r="2.25"/><circle cx="82.01" cy="282.21" r="2.25"/><circle cx="83.73" cy="280.91" r="2.25"/><circle cx="85.46" cy="279.61" r="2.25"/><circle cx="87.19" cy="278.31" r="2.25"/><circle cx="88.92" cy="277.01" r="2.25"/><circle cx="90.64" cy="275.72" r="2.25"/><circle cx="92.37" cy="274.43" r="2.25"/><circle cx="94.10" cy="273.13" r="2.25"/><circle cx="95.83" cy="271.84" r="2.25"/><circle cx="97.56" cy="270.56" r="2.25"/><circle cx="99.28" cy="269.27" r="2.25"/><circle cx="101.01" cy="267.98" r="2.25"/><circle cx="102.74" cy="266.70" r="2.25"/><circle cx="104.47" cy="265.41" r="2.25"/><circle cx="106.19" cy="264.13" r="2.25"/><circle cx="107.92" cy="262.85" r="2.25"/><circle cx="109.65" cy="261.57" r="2.25"/><circle cx="111.38" cy="260.30" r="2.25"/><circle cx="113.11" cy="259.02" r="2.25"/><circle cx="114.83" cy="257.75" r="2.25"/><circle cx="116.56" cy="256.47" r="2.25"/><circle cx="118.29" cy="255.20" r="2.25"/><circle cx="120.02" cy="253.93" r="2.25"/><circle cx="121.74" cy="252.66" r="2.25"/><circle cx="123.47" cy="251.39" r="2.25"/><circle cx="125.20" cy="250.13" r="2.25"/><circle cx="126.93" cy="248.86" r="2.25"/><circle cx="128.66" cy="247.60" r="2.25"/><circle cx="130.38" cy="246.34" r="2.25"/><circle cx="132.11" cy="245.08" r="2.25"/><circle cx="133.84" cy="243.82" r="2.25"/><circle cx="135.57" cy="242.56" r="2.25"/><circle cx="137.29" cy="241.31" r="2.25"/><circle cx="139.02" cy="240.05" r="2.25"/><circle cx="140.75" cy="238.80" r="2.25"/><circle cx="142.48" cy="237.55" r="2.25"/><circle cx="144.21" cy="236.30" r="2.25"/><circle cx="145.93" cy="235.05" r="2.25"/><circle cx="147.66" cy="233.80" r="2.25"/><circle cx="149.39" cy="232.56" r="2.25"/><circle cx="151.12" cy="231.31" r="2.25"/><circle cx="152.84" cy="230.07" r="2.25"/><circle cx="154.57" cy="228.83" r="2.25"/><circle cx="156.30" cy="227.59" r="2.25"/><circle cx="158.03" cy="226.35" r="2.25"/><circle cx="159.76" cy="225.11" r="2.25"/><circle cx="161.48" cy="223.88" r="2.25"/><circle cx="163.21" cy="222.64" r="2.25"/><circle cx="164.94" cy="221.41" r="2.25"/><circle cx="166.67" cy="220.18" r="2.25"/><circle cx="168.39" cy="218.95" r="2.25"/><circle cx="170.12" cy="217.72" r="2.25"/><circle cx="171.85" cy="216.49" r="2.25"/><circle cx="173.58" cy="215.27" r="2.25"/><circle cx="175.31" cy="214.04" r="2.25"/><circle cx="177.03" cy="212.82" r="2.25"/><circle cx="178.76" cy="211.60" r="2.25"/><circle cx="180.49" cy="210.38" r="2.25"/><circle cx="182.22" cy="209.16" r="2.25"/><circle cx="183.94" cy="207.94" r="2.25"/><circle cx="185.67" cy="206.73" r="2.25"/><circle cx="187.40" cy="205.51" r="2.25"/><circle cx="189.13" cy="204.30" r="2.25"/><circle cx="190.86" cy="203.09" r="2.25"/><circle cx="192.58" cy="201.88" r="2.25"/><circle cx="194.31" cy="200.67" r="2.25"/><circle cx="196.04" cy="199.46" r="2.25"/><circle cx="197.77" cy="198.26" r="2.25"/><circle cx="199.49" cy="197.05" r="2.25"/><circle cx="201.22" cy="195.85" r="2.25"/><circle cx="202.95" cy="194.65" r="2.25"/><circle cx="204.68" cy="193.45" r="2.25"/><circle cx="206.41" cy="192.25" r="2.25"/><circle cx="208.13" cy="191.05" r="2.25"/><circle cx="209.86" cy="189.86" r="2.25"/><circle cx="211.59" cy="188.67" r="2.25"/><circle cx="213.32" cy="187.47" r="2.25"/><circle cx="215.04" cy="186.28" r="2.25"/><circle cx="216.77" cy="185.09" r="2.25"/><circle cx="218.50" cy="183.90" r="2.25"/></g>
<g fill="#ffb0b0" opacity="0.8"><circle cx="66.46" cy="293.97" r="0.55"/><circle cx="69.91" cy="291.35" r="0.55"/><circle cx="73.37" cy="288.73" r="0.55"/><circle cx="76.82" cy="286.12" r="0.55"/><circle cx="80.28" cy="283.51" r="0.55"/><circle cx="83.73" cy="280.91" r="0.55"/><circle cx="87.19" cy="278.31" r="0.55"/><circle cx="90.64" cy="275.72" r="0.55"/><circle cx="94.10" cy="273.13" r="0.55"/><circle cx="97.56" cy="270.56" r="0.55"/><circle cx="101.01" cy="267.98" r="0.55"/><circle cx="104.47" cy="265.41" r="0.55"/><circle cx="107.92" cy="262.85" r="0.55"/><circle cx="111.38" cy="260.30" r="0.55"/><circle cx="114.83" cy="257.75" r="0.55"/><circle cx="118.29" cy="255.20" r="0.55"/><circle cx="121.74" cy="252.66" r="0.55"/><circle cx="125.20" cy="250.13" r="0.55"/><circle cx="128.66" cy="247.60" r="0.55"/><circle cx="132.11" cy="245.08" r="0.55"/><circle cx="135.57" cy="242.56" r="0.55"/><circle cx="139.02" cy="240.05" r="0.55"/><circle cx="142.48" cy="237.55" r="0.55"/><circle cx="145.93" cy="235.05" r="0.55"/><circle cx="149.39" cy="232.56" r="0.55"/><circle cx="152.84" cy="230.07" r="0.55"/><circle cx="156.30" cy="227.59" r="0.55"/><circle cx="159.76" cy="225.11" r="0.55"/><circle cx="163.21" cy="222.64" r="0.55"/><circle cx="166.67" cy="220.18" r="0.55"/><circle cx="170.12" cy="217.72" r="0.55"/><circle cx="173.58" cy="215.27" r="0.55"/><circle cx="177.03" cy="212.82" r="0.55"/><circle cx="180.49" cy="210.38" r="0.55"/><circle cx="183.94" cy="207.94" r="0.55"/><circle cx="187.40" cy="205.51" r="0.55"/><circle cx="190.86" cy="203.09" r="0.55"/><circle cx="194.31" cy="200.67" r="0.55"/><circle cx="197.77" cy="198.26" r="0.55"/><circle cx="201.22" cy="195.85" r="0.55"/><circle cx="204.68" cy="193.45" r="0.55"/><circle cx="208.13" cy="191.05" r="0.55"/><circle cx="211.59" cy="188.67" r="0.55"/><circle cx="215.04" cy="186.28" r="0.55"/></g>
<circle cx="56.2" cy="167.4" r="2.3" fill="#111" stroke="#000" stroke-width="0.5"/>
<circle cx="56.2" cy="183.2" r="2.3" fill="#f00" stroke="#d00" stroke-width="0.5"/>
<text x="68.6" y="170.9" font-size="10.3" font-family="Liberation Sans" fill="#222">MoS<tspan font-size="9.8" dy="2.2">2</tspan></text>
<text x="68.6" y="186.7" font-size="10.3" font-family="Liberation Sans" fill="#222">MoS<tspan font-size="9.8" dy="2.2">2</tspan><tspan dy="-2.2">/LiF</tspan></text>
<text x="67.4" y="212.7" font-size="10.3" font-family="Liberation Sans" font-weight="bold" fill="#111">V<tspan font-size="7" dy="2.5">g</tspan><tspan dy="-2.5"> = 35 V</tspan></text>
<text transform="translate(19.0,234.8) rotate(-90)" font-size="14" font-family="Liberation Sans" font-weight="bold" text-anchor="middle" fill="#111">I<tspan font-size="9.3" dy="3">d</tspan><tspan dy="-3"> (µA/µm)</tspan></text>
<text x="139.0" y="349.0" font-size="14" font-family="Liberation Sans" font-weight="bold" text-anchor="middle" fill="#111">V<tspan font-size="9.3" dy="3.3">d</tspan><tspan dy="-3.3"> (V)</tspan></text>
<rect x="306.0" y="157.5" width="194.0" height="163.5" fill="none" stroke="#111" stroke-width="1.3"/>
<line x1="325.40" y1="321.0" x2="325.40" y2="318.4" stroke="#111" stroke-width="1"/>
<line x1="344.84" y1="321.0" x2="344.84" y2="319.6" stroke="#111" stroke-width="1"/>
<line x1="364.27" y1="321.0" x2="364.27" y2="318.4" stroke="#111" stroke-width="1"/>
<line x1="383.71" y1="321.0" x2="383.71" y2="319.6" stroke="#111" stroke-width="1"/>
<line x1="403.15" y1="321.0" x2="403.15" y2="318.4" stroke="#111" stroke-width="1"/>
<line x1="422.59" y1="321.0" x2="422.59" y2="319.6" stroke="#111" stroke-width="1"/>
<line x1="442.02" y1="321.0" x2="442.02" y2="318.4" stroke="#111" stroke-width="1"/>
<line x1="461.46" y1="321.0" x2="461.46" y2="319.6" stroke="#111" stroke-width="1"/>
<line x1="480.90" y1="321.0" x2="480.90" y2="318.4" stroke="#111" stroke-width="1"/>
<text x="325.40" y="333.30" font-size="10.3" font-family="Liberation Sans" font-weight="bold" text-anchor="middle" fill="#000" >-1.0</text>
<text x="364.27" y="333.30" font-size="10.3" font-family="Liberation Sans" font-weight="bold" text-anchor="middle" fill="#000" >-0.5</text>
<text x="403.15" y="333.30" font-size="10.3" font-family="Liberation Sans" font-weight="bold" text-anchor="middle" fill="#000" >0.0</text>
<text x="442.02" y="333.30" font-size="10.3" font-family="Liberation Sans" font-weight="bold" text-anchor="middle" fill="#000" >0.5</text>
<text x="480.90" y="333.30" font-size="10.3" font-family="Liberation Sans" font-weight="bold" text-anchor="middle" fill="#000" >1.0</text>
<line x1="306.0" y1="172.30" x2="308.6" y2="172.30" stroke="#111" stroke-width="1"/>
<text x="302.50" y="176.00" font-size="10.3" font-family="Liberation Sans" font-weight="bold" text-anchor="end" fill="#000" >2.50</text>
<line x1="306.0" y1="187.17" x2="307.4" y2="187.17" stroke="#111" stroke-width="1"/>
<line x1="306.0" y1="202.04" x2="308.6" y2="202.04" stroke="#111" stroke-width="1"/>
<text x="302.50" y="205.74" font-size="10.3" font-family="Liberation Sans" font-weight="bold" text-anchor="end" fill="#000" >1.25</text>
<line x1="306.0" y1="216.91" x2="307.4" y2="216.91" stroke="#111" stroke-width="1"/>
<line x1="306.0" y1="231.78" x2="308.6" y2="231.78" stroke="#111" stroke-width="1"/>
<text x="302.50" y="235.48" font-size="10.3" font-family="Liberation Sans" font-weight="bold" text-anchor="end" fill="#000" >0.00</text>
<line x1="306.0" y1="246.65" x2="307.4" y2="246.65" stroke="#111" stroke-width="1"/>
<line x1="306.0" y1="261.52" x2="308.6" y2="261.52" stroke="#111" stroke-width="1"/>
<text x="302.50" y="265.22" font-size="10.3" font-family="Liberation Sans" font-weight="bold" text-anchor="end" fill="#000" >-1.25</text>
<line x1="306.0" y1="276.39" x2="307.4" y2="276.39" stroke="#111" stroke-width="1"/>
<line x1="306.0" y1="291.26" x2="308.6" y2="291.26" stroke="#111" stroke-width="1"/>
<text x="302.50" y="294.96" font-size="10.3" font-family="Liberation Sans" font-weight="bold" text-anchor="end" fill="#000" >-2.50</text>
<line x1="306.0" y1="306.13" x2="307.4" y2="306.13" stroke="#111" stroke-width="1"/>
<text x="302.50" y="324.70" font-size="10.3" font-family="Liberation Sans" font-weight="bold" text-anchor="end" fill="#000" >-3.75</text>
<g fill="#222" stroke="#000" stroke-width="0.6"><circle cx="325.40" cy="276.03" r="2.25"/><circle cx="327.13" cy="274.88" r="2.25"/><circle cx="328.86" cy="273.73" r="2.25"/><circle cx="330.58" cy="272.59" r="2.25"/><circle cx="332.31" cy="271.45" r="2.25"/><circle cx="334.04" cy="270.33" r="2.25"/><circle cx="335.77" cy="269.21" r="2.25"/><circle cx="337.49" cy="268.10" r="2.25"/><circle cx="339.22" cy="267.00" r="2.25"/><circle cx="340.95" cy="265.91" r="2.25"/><circle cx="342.68" cy="264.82" r="2.25"/><circle cx="344.41" cy="263.74" r="2.25"/><circle cx="346.13" cy="262.67" r="2.25"/><circle cx="347.86" cy="261.61" r="2.25"/><circle cx="349.59" cy="260.56" r="2.25"/><circle cx="351.32" cy="259.51" r="2.25"/><circle cx="353.04" cy="258.47" r="2.25"/><circle cx="354.77" cy="257.44" r="2.25"/><circle cx="356.50" cy="256.42" r="2.25"/><circle cx="358.23" cy="255.40" r="2.25"/><circle cx="359.96" cy="254.40" r="2.25"/><circle cx="361.68" cy="253.40" r="2.25"/><circle cx="363.41" cy="252.41" r="2.25"/><circle cx="365.14" cy="251.42" r="2.25"/><circle cx="366.87" cy="250.45" r="2.25"/><circle cx="368.59" cy="249.48" r="2.25"/><circle cx="370.32" cy="248.52" r="2.25"/><circle cx="372.05" cy="247.57" r="2.25"/><circle cx="373.78" cy="246.62" r="2.25"/><circle cx="375.51" cy="245.69" r="2.25"/><circle cx="377.23" cy="244.76" r="2.25"/><circle cx="378.96" cy="243.84" r="2.25"/><circle cx="380.69" cy="242.93" r="2.25"/><circle cx="382.42" cy="242.02" r="2.25"/><circle cx="384.14" cy="241.13" r="2.25"/><circle cx="385.87" cy="240.24" r="2.25"/><circle cx="387.60" cy="239.36" r="2.25"/><circle cx="389.33" cy="238.48" r="2.25"/><circle cx="391.06" cy="237.62" r="2.25"/><circle cx="392.78" cy="236.76" r="2.25"/><circle cx="394.51" cy="235.91" r="2.25"/><circle cx="396.24" cy="235.07" r="2.25"/><circle cx="397.97" cy="234.23" r="2.25"/><circle cx="399.69" cy="233.41" r="2.25"/><circle cx="401.42" cy="232.59" r="2.25"/><circle cx="403.15" cy="231.78" r="2.25"/><circle cx="404.88" cy="230.98" r="2.25"/><circle cx="406.61" cy="230.18" r="2.25"/><circle cx="408.33" cy="229.40" r="2.25"/><circle cx="410.06" cy="228.62" r="2.25"/><circle cx="411.79" cy="227.85" r="2.25"/><circle cx="413.52" cy="227.08" r="2.25"/><circle cx="415.24" cy="226.33" r="2.25"/><circle cx="416.97" cy="225.58" r="2.25"/><circle cx="418.70" cy="224.84" r="2.25"/><circle cx="420.43" cy="224.11" r="2.25"/><circle cx="422.16" cy="223.39" r="2.25"/><circle cx="423.88" cy="222.67" r="2.25"/><circle cx="425.61" cy="221.96" r="2.25"/><circle cx="427.34" cy="221.26" r="2.25"/><circle cx="429.07" cy="220.57" r="2.25"/><circle cx="430.79" cy="219.89" r="2.25"/><circle cx="432.52" cy="219.21" r="2.25"/><circle cx="434.25" cy="218.54" r="2.25"/><circle cx="435.98" cy="217.88" r="2.25"/><circle cx="437.71" cy="217.23" r="2.25"/><circle cx="439.43" cy="216.58" r="2.25"/><circle cx="441.16" cy="215.95" r="2.25"/><circle cx="442.89" cy="215.32" r="2.25"/><circle cx="444.62" cy="214.70" r="2.25"/><circle cx="446.34" cy="214.08" r="2.25"/><circle cx="448.07" cy="213.48" r="2.25"/><circle cx="449.80" cy="212.88" r="2.25"/><circle cx="451.53" cy="212.29" r="2.25"/><circle cx="453.26" cy="211.71" r="2.25"/><circle cx="454.98" cy="211.13" r="2.25"/><circle cx="456.71" cy="210.57" r="2.25"/><circle cx="458.44" cy="210.01" r="2.25"/><circle cx="460.17" cy="209.46" r="2.25"/><circle cx="461.89" cy="208.92" r="2.25"/><circle cx="463.62" cy="208.38" r="2.25"/><circle cx="465.35" cy="207.85" r="2.25"/><circle cx="467.08" cy="207.34" r="2.25"/><circle cx="468.81" cy="206.82" r="2.25"/><circle cx="470.53" cy="206.32" r="2.25"/><circle cx="472.26" cy="205.83" r="2.25"/><circle cx="473.99" cy="205.34" r="2.25"/><circle cx="475.72" cy="204.86" r="2.25"/><circle cx="477.44" cy="204.39" r="2.25"/><circle cx="479.17" cy="203.92" r="2.25"/><circle cx="480.90" cy="203.47" r="2.25"/></g>
<g fill="#9a9a9a" opacity="0.8"><circle cx="328.86" cy="273.73" r="0.55"/><circle cx="332.31" cy="271.45" r="0.55"/><circle cx="335.77" cy="269.21" r="0.55"/><circle cx="339.22" cy="267.00" r="0.55"/><circle cx="342.68" cy="264.82" r="0.55"/><circle cx="346.13" cy="262.67" r="0.55"/><circle cx="349.59" cy="260.56" r="0.55"/><circle cx="353.04" cy="258.47" r="0.55"/><circle cx="356.50" cy="256.42" r="0.55"/><circle cx="359.96" cy="254.40" r="0.55"/><circle cx="363.41" cy="252.41" r="0.55"/><circle cx="366.87" cy="250.45" r="0.55"/><circle cx="370.32" cy="248.52" r="0.55"/><circle cx="373.78" cy="246.62" r="0.55"/><circle cx="377.23" cy="244.76" r="0.55"/><circle cx="380.69" cy="242.93" r="0.55"/><circle cx="384.14" cy="241.13" r="0.55"/><circle cx="387.60" cy="239.36" r="0.55"/><circle cx="391.06" cy="237.62" r="0.55"/><circle cx="394.51" cy="235.91" r="0.55"/><circle cx="397.97" cy="234.23" r="0.55"/><circle cx="401.42" cy="232.59" r="0.55"/><circle cx="404.88" cy="230.98" r="0.55"/><circle cx="408.33" cy="229.40" r="0.55"/><circle cx="411.79" cy="227.85" r="0.55"/><circle cx="415.24" cy="226.33" r="0.55"/><circle cx="418.70" cy="224.84" r="0.55"/><circle cx="422.16" cy="223.39" r="0.55"/><circle cx="425.61" cy="221.96" r="0.55"/><circle cx="429.07" cy="220.57" r="0.55"/><circle cx="432.52" cy="219.21" r="0.55"/><circle cx="435.98" cy="217.88" r="0.55"/><circle cx="439.43" cy="216.58" r="0.55"/><circle cx="442.89" cy="215.32" r="0.55"/><circle cx="446.34" cy="214.08" r="0.55"/><circle cx="449.80" cy="212.88" r="0.55"/><circle cx="453.26" cy="211.71" r="0.55"/><circle cx="456.71" cy="210.57" r="0.55"/><circle cx="460.17" cy="209.46" r="0.55"/><circle cx="463.62" cy="208.38" r="0.55"/><circle cx="467.08" cy="207.34" r="0.55"/><circle cx="470.53" cy="206.32" r="0.55"/><circle cx="473.99" cy="205.34" r="0.55"/><circle cx="477.44" cy="204.39" r="0.55"/></g>
<g fill="#ff1010" stroke="#e00000" stroke-width="0.6"><circle cx="325.40" cy="301.97" r="2.25"/><circle cx="327.13" cy="300.29" r="2.25"/><circle cx="328.86" cy="298.61" r="2.25"/><circle cx="330.58" cy="296.95" r="2.25"/><circle cx="332.31" cy="295.28" r="2.25"/><circle cx="334.04" cy="293.63" r="2.25"/><circle cx="335.77" cy="291.98" r="2.25"/><circle cx="337.49" cy="290.33" r="2.25"/><circle cx="339.22" cy="288.69" r="2.25"/><circle cx="340.95" cy="287.05" r="2.25"/><circle cx="342.68" cy="285.42" r="2.25"/><circle cx="344.41" cy="283.80" r="2.25"/><circle cx="346.13" cy="282.18" r="2.25"/><circle cx="347.86" cy="280.57" r="2.25"/><circle cx="349.59" cy="278.96" r="2.25"/><circle cx="351.32" cy="277.35" r="2.25"/><circle cx="353.04" cy="275.76" r="2.25"/><circle cx="354.77" cy="274.17" r="2.25"/><circle cx="356.50" cy="272.58" r="2.25"/><circle cx="358.23" cy="271.00" r="2.25"/><circle cx="359.96" cy="269.42" r="2.25"/><circle cx="361.68" cy="267.85" r="2.25"/><circle cx="363.41" cy="266.29" r="2.25"/><circle cx="365.14" cy="264.73" r="2.25"/><circle cx="366.87" cy="263.17" r="2.25"/><circle cx="368.59" cy="261.62" r="2.25"/><circle cx="370.32" cy="260.08" r="2.25"/><circle cx="372.05" cy="258.54" r="2.25"/><circle cx="373.78" cy="257.01" r="2.25"/><circle cx="375.51" cy="255.48" r="2.25"/><circle cx="377.23" cy="253.96" r="2.25"/><circle cx="378.96" cy="252.44" r="2.25"/><circle cx="380.69" cy="250.93" r="2.25"/><circle cx="382.42" cy="249.43" r="2.25"/><circle cx="384.14" cy="247.93" r="2.25"/><circle cx="385.87" cy="246.43" r="2.25"/><circle cx="387.60" cy="244.94" r="2.25"/><circle cx="389.33" cy="243.46" r="2.25"/><circle cx="391.06" cy="241.98" r="2.25"/><circle cx="392.78" cy="240.51" r="2.25"/><circle cx="394.51" cy="239.04" r="2.25"/><circle cx="396.24" cy="237.58" r="2.25"/><circle cx="397.97" cy="236.12" r="2.25"/><circle cx="399.69" cy="234.67" r="2.25"/><circle cx="401.42" cy="233.22" r="2.25"/><circle cx="403.15" cy="231.78" r="2.25"/><circle cx="404.88" cy="230.34" r="2.25"/><circle cx="406.61" cy="228.91" r="2.25"/><circle cx="408.33" cy="227.49" r="2.25"/><circle cx="410.06" cy="226.07" r="2.25"/><circle cx="411.79" cy="224.66" r="2.25"/><circle cx="413.52" cy="223.25" r="2.25"/><circle cx="415.24" cy="221.85" r="2.25"/><circle cx="416.97" cy="220.45" r="2.25"/><circle cx="418.70" cy="219.06" r="2.25"/><circle cx="420.43" cy="217.67" r="2.25"/><circle cx="422.16" cy="216.29" r="2.25"/><circle cx="423.88" cy="214.91" r="2.25"/><circle cx="425.61" cy="213.54" r="2.25"/><circle cx="427.34" cy="212.18" r="2.25"/><circle cx="429.07" cy="210.82" r="2.25"/><circle cx="430.79" cy="209.46" r="2.25"/><circle cx="432.52" cy="208.11" r="2.25"/><circle cx="434.25" cy="206.77" r="2.25"/><circle cx="435.98" cy="205.43" r="2.25"/><circle cx="437.71" cy="204.10" r="2.25"/><circle cx="439.43" cy="202.77" r="2.25"/><circle cx="441.16" cy="201.45" r="2.25"/><circle cx="442.89" cy="200.13" r="2.25"/><circle cx="444.62" cy="198.82" r="2.25"/><circle cx="446.34" cy="197.52" r="2.25"/><circle cx="448.07" cy="196.22" r="2.25"/><circle cx="449.80" cy="194.92" r="2.25"/><circle cx="451.53" cy="193.63" r="2.25"/><circle cx="453.26" cy="192.35" r="2.25"/><circle cx="454.98" cy="191.07" r="2.25"/><circle cx="456.71" cy="189.80" r="2.25"/><circle cx="458.44" cy="188.53" r="2.25"/><circle cx="460.17" cy="187.27" r="2.25"/><circle cx="461.89" cy="186.01" r="2.25"/><circle cx="463.62" cy="184.76" r="2.25"/><circle cx="465.35" cy="183.51" r="2.25"/><circle cx="467.08" cy="182.27" r="2.25"/><circle cx="468.81" cy="181.03" r="2.25"/><circle cx="470.53" cy="179.80" r="2.25"/><circle cx="472.26" cy="178.58" r="2.25"/><circle cx="473.99" cy="177.36" r="2.25"/><circle cx="475.72" cy="176.15" r="2.25"/><circle cx="477.44" cy="174.94" r="2.25"/><circle cx="479.17" cy="173.74" r="2.25"/><circle cx="480.90" cy="172.54" r="2.25"/></g>
<g fill="#ffb0b0" opacity="0.8"><circle cx="328.86" cy="298.61" r="0.55"/><circle cx="332.31" cy="295.28" r="0.55"/><circle cx="335.77" cy="291.98" r="0.55"/><circle cx="339.22" cy="288.69" r="0.55"/><circle cx="342.68" cy="285.42" r="0.55"/><circle cx="346.13" cy="282.18" r="0.55"/><circle cx="349.59" cy="278.96" r="0.55"/><circle cx="353.04" cy="275.76" r="0.55"/><circle cx="356.50" cy="272.58" r="0.55"/><circle cx="359.96" cy="269.42" r="0.55"/><circle cx="363.41" cy="266.29" r="0.55"/><circle cx="366.87" cy="263.17" r="0.55"/><circle cx="370.32" cy="260.08" r="0.55"/><circle cx="373.78" cy="257.01" r="0.55"/><circle cx="377.23" cy="253.96" r="0.55"/><circle cx="380.69" cy="250.93" r="0.55"/><circle cx="384.14" cy="247.93" r="0.55"/><circle cx="387.60" cy="244.94" r="0.55"/><circle cx="391.06" cy="241.98" r="0.55"/><circle cx="394.51" cy="239.04" r="0.55"/><circle cx="397.97" cy="236.12" r="0.55"/><circle cx="401.42" cy="233.22" r="0.55"/><circle cx="404.88" cy="230.34" r="0.55"/><circle cx="408.33" cy="227.49" r="0.55"/><circle cx="411.79" cy="224.66" r="0.55"/><circle cx="415.24" cy="221.85" r="0.55"/><circle cx="418.70" cy="219.06" r="0.55"/><circle cx="422.16" cy="216.29" r="0.55"/><circle cx="425.61" cy="213.54" r="0.55"/><circle cx="429.07" cy="210.82" r="0.55"/><circle cx="432.52" cy="208.11" r="0.55"/><circle cx="435.98" cy="205.43" r="0.55"/><circle cx="439.43" cy="202.77" r="0.55"/><circle cx="442.89" cy="200.13" r="0.55"/><circle cx="446.34" cy="197.52" r="0.55"/><circle cx="449.80" cy="194.92" r="0.55"/><circle cx="453.26" cy="192.35" r="0.55"/><circle cx="456.71" cy="189.80" r="0.55"/><circle cx="460.17" cy="187.27" r="0.55"/><circle cx="463.62" cy="184.76" r="0.55"/><circle cx="467.08" cy="182.27" r="0.55"/><circle cx="470.53" cy="179.80" r="0.55"/><circle cx="473.99" cy="177.36" r="0.55"/><circle cx="477.44" cy="174.94" r="0.55"/></g>
<circle cx="319.5" cy="170.5" r="2.3" fill="#111" stroke="#000" stroke-width="0.5"/>
<circle cx="319.5" cy="186.5" r="2.3" fill="#f00" stroke="#d00" stroke-width="0.5"/>
<text x="331.3" y="174.0" font-size="10.3" font-family="Liberation Sans" fill="#222">MoS<tspan font-size="7.5" dy="1.8">2</tspan></text>
<text x="331.3" y="190.0" font-size="10.3" font-family="Liberation Sans" fill="#222">MoS<tspan font-size="7.5" dy="1.8">2</tspan><tspan dy="-1.8">/NaF</tspan></text>
<text x="331.0" y="212.8" font-size="10.3" font-family="Liberation Sans" font-weight="bold" fill="#111">V<tspan font-size="7" dy="2.5">g</tspan><tspan dy="-2.5"> = 35 V</tspan></text>
<text transform="translate(270.7,231.75) rotate(-90)" font-size="14" font-family="Liberation Sans" font-weight="bold" text-anchor="middle" fill="#111">I<tspan font-size="9.3" dy="3">d</tspan><tspan dy="-3"> (µA/µm)</tspan></text>
<text x="401.0" y="349.0" font-size="14" font-family="Liberation Sans" font-weight="bold" text-anchor="middle" fill="#111">V<tspan font-size="9.3" dy="3.3">d</tspan><tspan dy="-3.3"> (V)</tspan></text>
<rect x="565.2" y="157.3" width="194.0" height="163.39999999999998" fill="none" stroke="#111" stroke-width="1.3"/>
<line x1="584.40" y1="320.7" x2="584.40" y2="318.09999999999997" stroke="#111" stroke-width="1"/>
<line x1="603.84" y1="320.7" x2="603.84" y2="319.3" stroke="#111" stroke-width="1"/>
<line x1="623.27" y1="320.7" x2="623.27" y2="318.09999999999997" stroke="#111" stroke-width="1"/>
<line x1="642.71" y1="320.7" x2="642.71" y2="319.3" stroke="#111" stroke-width="1"/>
<line x1="662.15" y1="320.7" x2="662.15" y2="318.09999999999997" stroke="#111" stroke-width="1"/>
<line x1="681.59" y1="320.7" x2="681.59" y2="319.3" stroke="#111" stroke-width="1"/>
<line x1="701.02" y1="320.7" x2="701.02" y2="318.09999999999997" stroke="#111" stroke-width="1"/>
<line x1="720.46" y1="320.7" x2="720.46" y2="319.3" stroke="#111" stroke-width="1"/>
<line x1="739.90" y1="320.7" x2="739.90" y2="318.09999999999997" stroke="#111" stroke-width="1"/>
<text x="584.40" y="333.00" font-size="10.3" font-family="Liberation Sans" font-weight="bold" text-anchor="middle" fill="#000" >-1.0</text>
<text x="623.27" y="333.00" font-size="10.3" font-family="Liberation Sans" font-weight="bold" text-anchor="middle" fill="#000" >-0.5</text>
<text x="662.15" y="333.00" font-size="10.3" font-family="Liberation Sans" font-weight="bold" text-anchor="middle" fill="#000" >0.0</text>
<text x="701.02" y="333.00" font-size="10.3" font-family="Liberation Sans" font-weight="bold" text-anchor="middle" fill="#000" >0.5</text>
<text x="739.90" y="333.00" font-size="10.3" font-family="Liberation Sans" font-weight="bold" text-anchor="middle" fill="#000" >1.0</text>
<line x1="565.2" y1="172.10" x2="567.8000000000001" y2="172.10" stroke="#111" stroke-width="1"/>
<text x="561.70" y="175.80" font-size="10.3" font-family="Liberation Sans" font-weight="bold" text-anchor="end" fill="#000" >8</text>
<line x1="565.2" y1="186.96" x2="566.6" y2="186.96" stroke="#111" stroke-width="1"/>
<line x1="565.2" y1="201.82" x2="567.8000000000001" y2="201.82" stroke="#111" stroke-width="1"/>
<text x="561.70" y="205.52" font-size="10.3" font-family="Liberation Sans" font-weight="bold" text-anchor="end" fill="#000" >4</text>
<line x1="565.2" y1="216.68" x2="566.6" y2="216.68" stroke="#111" stroke-width="1"/>
<line x1="565.2" y1="231.54" x2="567.8000000000001" y2="231.54" stroke="#111" stroke-width="1"/>
<text x="561.70" y="235.24" font-size="10.3" font-family="Liberation Sans" font-weight="bold" text-anchor="end" fill="#000" >0</text>
<line x1="565.2" y1="246.40" x2="566.6" y2="246.40" stroke="#111" stroke-width="1"/>
<line x1="565.2" y1="261.26" x2="567.8000000000001" y2="261.26" stroke="#111" stroke-width="1"/>
<text x="561.70" y="264.96" font-size="10.3" font-family="Liberation Sans" font-weight="bold" text-anchor="end" fill="#000" >-4</text>
<line x1="565.2" y1="276.12" x2="566.6" y2="276.12" stroke="#111" stroke-width="1"/>
<line x1="565.2" y1="290.98" x2="567.8000000000001" y2="290.98" stroke="#111" stroke-width="1"/>
<text x="561.70" y="294.68" font-size="10.3" font-family="Liberation Sans" font-weight="bold" text-anchor="end" fill="#000" >-8</text>
<line x1="565.2" y1="305.84" x2="566.6" y2="305.84" stroke="#111" stroke-width="1"/>
<text x="561.70" y="324.40" font-size="10.3" font-family="Liberation Sans" font-weight="bold" text-anchor="end" fill="#000" >-12</text>
<g fill="#ff1010" stroke="#e00000" stroke-width="0.6"><circle cx="584.40" cy="263.71" r="2.25"/><circle cx="586.13" cy="262.89" r="2.25"/><circle cx="587.86" cy="262.07" r="2.25"/><circle cx="589.58" cy="261.26" r="2.25"/><circle cx="591.31" cy="260.45" r="2.25"/><circle cx="593.04" cy="259.65" r="2.25"/><circle cx="594.77" cy="258.85" r="2.25"/><circle cx="596.49" cy="258.06" r="2.25"/><circle cx="598.22" cy="257.27" r="2.25"/><circle cx="599.95" cy="256.49" r="2.25"/><circle cx="601.68" cy="255.71" r="2.25"/><circle cx="603.41" cy="254.94" r="2.25"/><circle cx="605.13" cy="254.17" r="2.25"/><circle cx="606.86" cy="253.40" r="2.25"/><circle cx="608.59" cy="252.64" r="2.25"/><circle cx="610.32" cy="251.89" r="2.25"/><circle cx="612.04" cy="251.14" r="2.25"/><circle cx="613.77" cy="250.40" r="2.25"/><circle cx="615.50" cy="249.66" r="2.25"/><circle cx="617.23" cy="248.92" r="2.25"/><circle cx="618.96" cy="248.19" r="2.25"/><circle cx="620.68" cy="247.47" r="2.25"/><circle cx="622.41" cy="246.75" r="2.25"/><circle cx="624.14" cy="246.03" r="2.25"/><circle cx="625.87" cy="245.32" r="2.25"/><circle cx="627.59" cy="244.62" r="2.25"/><circle cx="629.32" cy="243.92" r="2.25"/><circle cx="631.05" cy="243.22" r="2.25"/><circle cx="632.78" cy="242.53" r="2.25"/><circle cx="634.51" cy="241.85" r="2.25"/><circle cx="636.23" cy="241.17" r="2.25"/><circle cx="637.96" cy="240.49" r="2.25"/><circle cx="639.69" cy="239.82" r="2.25"/><circle cx="641.42" cy="239.15" r="2.25"/><circle cx="643.14" cy="238.49" r="2.25"/><circle cx="644.87" cy="237.84" r="2.25"/><circle cx="646.60" cy="237.18" r="2.25"/><circle cx="648.33" cy="236.54" r="2.25"/><circle cx="650.06" cy="235.90" r="2.25"/><circle cx="651.78" cy="235.26" r="2.25"/><circle cx="653.51" cy="234.63" r="2.25"/><circle cx="655.24" cy="234.00" r="2.25"/><circle cx="656.97" cy="233.38" r="2.25"/><circle cx="658.69" cy="232.76" r="2.25"/><circle cx="660.42" cy="232.15" r="2.25"/><circle cx="662.15" cy="231.54" r="2.25"/><circle cx="663.88" cy="230.94" r="2.25"/><circle cx="665.61" cy="230.34" r="2.25"/><circle cx="667.33" cy="229.75" r="2.25"/><circle cx="669.06" cy="229.16" r="2.25"/><circle cx="670.79" cy="228.58" r="2.25"/><circle cx="672.52" cy="228.00" r="2.25"/><circle cx="674.24" cy="227.42" r="2.25"/><circle cx="675.97" cy="226.86" r="2.25"/><circle cx="677.70" cy="226.29" r="2.25"/><circle cx="679.43" cy="225.73" r="2.25"/><circle cx="681.16" cy="225.18" r="2.25"/><circle cx="682.88" cy="224.63" r="2.25"/><circle cx="684.61" cy="224.09" r="2.25"/><circle cx="686.34" cy="223.55" r="2.25"/><circle cx="688.07" cy="223.01" r="2.25"/><circle cx="689.79" cy="222.48" r="2.25"/><circle cx="691.52" cy="221.96" r="2.25"/><circle cx="693.25" cy="221.44" r="2.25"/><circle cx="694.98" cy="220.92" r="2.25"/><circle cx="696.71" cy="220.41" r="2.25"/><circle cx="698.43" cy="219.91" r="2.25"/><circle cx="700.16" cy="219.41" r="2.25"/><circle cx="701.89" cy="218.91" r="2.25"/><circle cx="703.62" cy="218.42" r="2.25"/><circle cx="705.34" cy="217.94" r="2.25"/><circle cx="707.07" cy="217.46" r="2.25"/><circle cx="708.80" cy="216.98" r="2.25"/><circle cx="710.53" cy="216.51" r="2.25"/><circle cx="712.26" cy="216.04" r="2.25"/><circle cx="713.98" cy="215.58" r="2.25"/><circle cx="715.71" cy="215.13" r="2.25"/><circle cx="717.44" cy="214.67" r="2.25"/><circle cx="719.17" cy="214.23" r="2.25"/><circle cx="720.89" cy="213.79" r="2.25"/><circle cx="722.62" cy="213.35" r="2.25"/><circle cx="724.35" cy="212.92" r="2.25"/><circle cx="726.08" cy="212.49" r="2.25"/><circle cx="727.81" cy="212.07" r="2.25"/><circle cx="729.53" cy="211.65" r="2.25"/><circle cx="731.26" cy="211.24" r="2.25"/><circle cx="732.99" cy="210.83" r="2.25"/><circle cx="734.72" cy="210.43" r="2.25"/><circle cx="736.44" cy="210.03" r="2.25"/><circle cx="738.17" cy="209.64" r="2.25"/><circle cx="739.90" cy="209.25" r="2.25"/></g>
<g fill="#ffb0b0" opacity="0.8"><circle cx="587.86" cy="262.07" r="0.55"/><circle cx="591.31" cy="260.45" r="0.55"/><circle cx="594.77" cy="258.85" r="0.55"/><circle cx="598.22" cy="257.27" r="0.55"/><circle cx="601.68" cy="255.71" r="0.55"/><circle cx="605.13" cy="254.17" r="0.55"/><circle cx="608.59" cy="252.64" r="0.55"/><circle cx="612.04" cy="251.14" r="0.55"/><circle cx="615.50" cy="249.66" r="0.55"/><circle cx="618.96" cy="248.19" r="0.55"/><circle cx="622.41" cy="246.75" r="0.55"/><circle cx="625.87" cy="245.32" r="0.55"/><circle cx="629.32" cy="243.92" r="0.55"/><circle cx="632.78" cy="242.53" r="0.55"/><circle cx="636.23" cy="241.17" r="0.55"/><circle cx="639.69" cy="239.82" r="0.55"/><circle cx="643.14" cy="238.49" r="0.55"/><circle cx="646.60" cy="237.18" r="0.55"/><circle cx="650.06" cy="235.90" r="0.55"/><circle cx="653.51" cy="234.63" r="0.55"/><circle cx="656.97" cy="233.38" r="0.55"/><circle cx="660.42" cy="232.15" r="0.55"/><circle cx="663.88" cy="230.94" r="0.55"/><circle cx="667.33" cy="229.75" r="0.55"/><circle cx="670.79" cy="228.58" r="0.55"/><circle cx="674.24" cy="227.42" r="0.55"/><circle cx="677.70" cy="226.29" r="0.55"/><circle cx="681.16" cy="225.18" r="0.55"/><circle cx="684.61" cy="224.09" r="0.55"/><circle cx="688.07" cy="223.01" r="0.55"/><circle cx="691.52" cy="221.96" r="0.55"/><circle cx="694.98" cy="220.92" r="0.55"/><circle cx="698.43" cy="219.91" r="0.55"/><circle cx="701.89" cy="218.91" r="0.55"/><circle cx="705.34" cy="217.94" r="0.55"/><circle cx="708.80" cy="216.98" r="0.55"/><circle cx="712.26" cy="216.04" r="0.55"/><circle cx="715.71" cy="215.13" r="0.55"/><circle cx="719.17" cy="214.23" r="0.55"/><circle cx="722.62" cy="213.35" r="0.55"/><circle cx="726.08" cy="212.49" r="0.55"/><circle cx="729.53" cy="211.65" r="0.55"/><circle cx="732.99" cy="210.83" r="0.55"/><circle cx="736.44" cy="210.03" r="0.55"/></g>
<g fill="#222" stroke="#000" stroke-width="0.6"><circle cx="584.40" cy="302.50" r="2.25"/><circle cx="586.13" cy="300.77" r="2.25"/><circle cx="587.86" cy="299.05" r="2.25"/><circle cx="589.58" cy="297.34" r="2.25"/><circle cx="591.31" cy="295.63" r="2.25"/><circle cx="593.04" cy="293.93" r="2.25"/><circle cx="594.77" cy="292.24" r="2.25"/><circle cx="596.49" cy="290.56" r="2.25"/><circle cx="598.22" cy="288.88" r="2.25"/><circle cx="599.95" cy="287.21" r="2.25"/><circle cx="601.68" cy="285.54" r="2.25"/><circle cx="603.41" cy="283.88" r="2.25"/><circle cx="605.13" cy="282.23" r="2.25"/><circle cx="606.86" cy="280.59" r="2.25"/><circle cx="608.59" cy="278.95" r="2.25"/><circle cx="610.32" cy="277.32" r="2.25"/><circle cx="612.04" cy="275.69" r="2.25"/><circle cx="613.77" cy="274.08" r="2.25"/><circle cx="615.50" cy="272.46" r="2.25"/><circle cx="617.23" cy="270.86" r="2.25"/><circle cx="618.96" cy="269.26" r="2.25"/><circle cx="620.68" cy="267.67" r="2.25"/><circle cx="622.41" cy="266.09" r="2.25"/><circle cx="624.14" cy="264.51" r="2.25"/><circle cx="625.87" cy="262.94" r="2.25"/><circle cx="627.59" cy="261.38" r="2.25"/><circle cx="629.32" cy="259.82" r="2.25"/><circle cx="631.05" cy="258.27" r="2.25"/><circle cx="632.78" cy="256.73" r="2.25"/><circle cx="634.51" cy="255.19" r="2.25"/><circle cx="636.23" cy="253.66" r="2.25"/><circle cx="637.96" cy="252.14" r="2.25"/><circle cx="639.69" cy="250.63" r="2.25"/><circle cx="641.42" cy="249.12" r="2.25"/><circle cx="643.14" cy="247.62" r="2.25"/><circle cx="644.87" cy="246.12" r="2.25"/><circle cx="646.60" cy="244.63" r="2.25"/><circle cx="648.33" cy="243.15" r="2.25"/><circle cx="650.06" cy="241.67" r="2.25"/><circle cx="651.78" cy="240.21" r="2.25"/><circle cx="653.51" cy="238.75" r="2.25"/><circle cx="655.24" cy="237.29" r="2.25"/><circle cx="656.97" cy="235.84" r="2.25"/><circle cx="658.69" cy="234.40" r="2.25"/><circle cx="660.42" cy="232.97" r="2.25"/><circle cx="662.15" cy="231.54" r="2.25"/><circle cx="663.88" cy="230.12" r="2.25"/><circle cx="665.61" cy="228.71" r="2.25"/><circle cx="667.33" cy="227.30" r="2.25"/><circle cx="669.06" cy="225.90" r="2.25"/><circle cx="670.79" cy="224.50" r="2.25"/><circle cx="672.52" cy="223.12" r="2.25"/><circle cx="674.24" cy="221.74" r="2.25"/><circle cx="675.97" cy="220.36" r="2.25"/><circle cx="677.70" cy="219.00" r="2.25"/><circle cx="679.43" cy="217.64" r="2.25"/><circle cx="681.16" cy="216.29" r="2.25"/><circle cx="682.88" cy="214.94" r="2.25"/><circle cx="684.61" cy="213.60" r="2.25"/><circle cx="686.34" cy="212.27" r="2.25"/><circle cx="688.07" cy="210.94" r="2.25"/><circle cx="689.79" cy="209.62" r="2.25"/><circle cx="691.52" cy="208.31" r="2.25"/><circle cx="693.25" cy="207.01" r="2.25"/><circle cx="694.98" cy="205.71" r="2.25"/><circle cx="696.71" cy="204.42" r="2.25"/><circle cx="698.43" cy="203.13" r="2.25"/><circle cx="700.16" cy="201.85" r="2.25"/><circle cx="701.89" cy="200.58" r="2.25"/><circle cx="703.62" cy="199.32" r="2.25"/><circle cx="705.34" cy="198.06" r="2.25"/><circle cx="707.07" cy="196.81" r="2.25"/><circle cx="708.80" cy="195.56" r="2.25"/><circle cx="710.53" cy="194.33" r="2.25"/><circle cx="712.26" cy="193.10" r="2.25"/><circle cx="713.98" cy="191.87" r="2.25"/><circle cx="715.71" cy="190.66" r="2.25"/><circle cx="717.44" cy="189.44" r="2.25"/><circle cx="719.17" cy="188.24" r="2.25"/><circle cx="720.89" cy="187.04" r="2.25"/><circle cx="722.62" cy="185.85" r="2.25"/><circle cx="724.35" cy="184.67" r="2.25"/><circle cx="726.08" cy="183.50" r="2.25"/><circle cx="727.81" cy="182.33" r="2.25"/><circle cx="729.53" cy="181.16" r="2.25"/><circle cx="731.26" cy="180.01" r="2.25"/><circle cx="732.99" cy="178.86" r="2.25"/><circle cx="734.72" cy="177.72" r="2.25"/><circle cx="736.44" cy="176.58" r="2.25"/><circle cx="738.17" cy="175.45" r="2.25"/><circle cx="739.90" cy="174.33" r="2.25"/></g>
<g fill="#9a9a9a" opacity="0.8"><circle cx="587.86" cy="299.05" r="0.55"/><circle cx="591.31" cy="295.63" r="0.55"/><circle cx="594.77" cy="292.24" r="0.55"/><circle cx="598.22" cy="288.88" r="0.55"/><circle cx="601.68" cy="285.54" r="0.55"/><circle cx="605.13" cy="282.23" r="0.55"/><circle cx="608.59" cy="278.95" r="0.55"/><circle cx="612.04" cy="275.69" r="0.55"/><circle cx="615.50" cy="272.46" r="0.55"/><circle cx="618.96" cy="269.26" r="0.55"/><circle cx="622.41" cy="266.09" r="0.55"/><circle cx="625.87" cy="262.94" r="0.55"/><circle cx="629.32" cy="259.82" r="0.55"/><circle cx="632.78" cy="256.73" r="0.55"/><circle cx="636.23" cy="253.66" r="0.55"/><circle cx="639.69" cy="250.63" r="0.55"/><circle cx="643.14" cy="247.62" r="0.55"/><circle cx="646.60" cy="244.63" r="0.55"/><circle cx="650.06" cy="241.67" r="0.55"/><circle cx="653.51" cy="238.75" r="0.55"/><circle cx="656.97" cy="235.84" r="0.55"/><circle cx="660.42" cy="232.97" r="0.55"/><circle cx="663.88" cy="230.12" r="0.55"/><circle cx="667.33" cy="227.30" r="0.55"/><circle cx="670.79" cy="224.50" r="0.55"/><circle cx="674.24" cy="221.74" r="0.55"/><circle cx="677.70" cy="219.00" r="0.55"/><circle cx="681.16" cy="216.29" r="0.55"/><circle cx="684.61" cy="213.60" r="0.55"/><circle cx="688.07" cy="210.94" r="0.55"/><circle cx="691.52" cy="208.31" r="0.55"/><circle cx="694.98" cy="205.71" r="0.55"/><circle cx="698.43" cy="203.13" r="0.55"/><circle cx="701.89" cy="200.58" r="0.55"/><circle cx="705.34" cy="198.06" r="0.55"/><circle cx="708.80" cy="195.56" r="0.55"/><circle cx="712.26" cy="193.10" r="0.55"/><circle cx="715.71" cy="190.66" r="0.55"/><circle cx="719.17" cy="188.24" r="0.55"/><circle cx="722.62" cy="185.85" r="0.55"/><circle cx="726.08" cy="183.50" r="0.55"/><circle cx="729.53" cy="181.16" r="0.55"/><circle cx="732.99" cy="178.86" r="0.55"/><circle cx="736.44" cy="176.58" r="0.55"/></g>
<circle cx="577.8" cy="168.5" r="2.3" fill="#111" stroke="#000" stroke-width="0.5"/>
<circle cx="577.8" cy="184.6" r="2.3" fill="#f00" stroke="#d00" stroke-width="0.5"/>
<text x="589.5" y="172.0" font-size="10.3" font-family="Liberation Sans" fill="#222">MoS<tspan font-size="7.5" dy="1.8">2</tspan></text>
<text x="586.8" y="188.1" font-size="10.3" font-family="Liberation Sans" fill="#222">MoS<tspan font-size="7.5" dy="1.8">2</tspan><tspan dy="-1.8">/KF</tspan></text>
<text x="585.3" y="210.2" font-size="10.3" font-family="Liberation Sans" font-weight="bold" fill="#111">V<tspan font-size="7" dy="2.5">g</tspan><tspan dy="-2.5"> = 35 V</tspan></text>
<text transform="translate(544.0,236.0) rotate(-90)" font-size="14" font-family="Liberation Sans" font-weight="bold" text-anchor="middle" fill="#111">I<tspan font-size="9.3" dy="3">d</tspan><tspan dy="-3"> (µA/µm)</tspan></text>
<text x="664.5" y="349.0" font-size="14" font-family="Liberation Sans" font-weight="bold" text-anchor="middle" fill="#111">V<tspan font-size="9.3" dy="3.3">d</tspan><tspan dy="-3.3"> (V)</tspan></text>
<line x1="43.6" y1="537.40" x2="46.2" y2="537.40" stroke="#111" stroke-width="1"/>
<text x="40.10" y="541.10" font-size="10.3" font-family="Liberation Sans" font-weight="bold" text-anchor="end" fill="#000" >0</text>
<line x1="43.6" y1="508.56" x2="46.2" y2="508.56" stroke="#111" stroke-width="1"/>
<text x="40.10" y="512.26" font-size="10.3" font-family="Liberation Sans" font-weight="bold" text-anchor="end" fill="#000" >30</text>
<line x1="43.6" y1="479.73" x2="46.2" y2="479.73" stroke="#111" stroke-width="1"/>
<text x="40.10" y="483.43" font-size="10.3" font-family="Liberation Sans" font-weight="bold" text-anchor="end" fill="#000" >60</text>
<line x1="43.6" y1="450.89" x2="46.2" y2="450.89" stroke="#111" stroke-width="1"/>
<text x="40.10" y="454.59" font-size="10.3" font-family="Liberation Sans" font-weight="bold" text-anchor="end" fill="#000" >90</text>
<line x1="43.6" y1="422.06" x2="46.2" y2="422.06" stroke="#111" stroke-width="1"/>
<text x="40.10" y="425.76" font-size="10.3" font-family="Liberation Sans" font-weight="bold" text-anchor="end" fill="#000" >120</text>
<line x1="43.6" y1="393.22" x2="46.2" y2="393.22" stroke="#111" stroke-width="1"/>
<text x="40.10" y="396.92" font-size="10.3" font-family="Liberation Sans" font-weight="bold" text-anchor="end" fill="#000" >150</text>
<line x1="43.6" y1="522.98" x2="45.0" y2="522.98" stroke="#111" stroke-width="1"/>
<line x1="43.6" y1="494.15" x2="45.0" y2="494.15" stroke="#111" stroke-width="1"/>
<line x1="43.6" y1="465.31" x2="45.0" y2="465.31" stroke="#111" stroke-width="1"/>
<line x1="43.6" y1="436.48" x2="45.0" y2="436.48" stroke="#111" stroke-width="1"/>
<line x1="43.6" y1="407.64" x2="45.0" y2="407.64" stroke="#111" stroke-width="1"/>
<line x1="43.6" y1="378.81" x2="45.0" y2="378.81" stroke="#111" stroke-width="1"/>
<rect x="49.8" y="465.31" width="26.20" height="72.09" fill="#eee466" stroke="#8a8050" stroke-width="0.6"/>
<rect x="76.0" y="405.72" width="25.60" height="131.68" fill="#056405"/>
<rect x="114.7" y="496.26" width="25.70" height="41.14" fill="#eee466" stroke="#8a8050" stroke-width="0.6"/>
<rect x="140.4" y="488.76" width="26.20" height="48.64" fill="#056405"/>
<rect x="179.5" y="467.23" width="25.60" height="70.17" fill="#eee466" stroke="#8a8050" stroke-width="0.6"/>
<rect x="205.1" y="499.72" width="26.50" height="37.68" fill="#056405"/>
<line x1="108.4" y1="537.4" x2="108.4" y2="535.8" stroke="#111" stroke-width="1"/>
<line x1="172.9" y1="537.4" x2="172.9" y2="535.8" stroke="#111" stroke-width="1"/>
<rect x="43.6" y="374.0" width="194.5" height="163.39999999999998" fill="none" stroke="#111" stroke-width="1.3"/>
<rect x="47.8" y="376.6" width="17.9" height="9.6" fill="#eee466" stroke="#8a8050" stroke-width="0.6"/>
<rect x="47.8" y="391.2" width="17.9" height="9.4" fill="#056405"/>
<text x="68.9" y="384.4" font-size="9.5" font-family="Liberation Sans" fill="#222">Pristine MoS<tspan font-size="7" dy="1.8">2</tspan></text>
<text x="68.9" y="398.9" font-size="9.5" font-family="Liberation Sans" fill="#222">MoS<tspan font-size="7" dy="1.8">2</tspan><tspan dy="-1.8">/Alkali Fluoride</tspan></text>
<text x="74.20" y="550.5" font-size="10.2" font-family="Liberation Sans" font-weight="bold" text-anchor="middle" fill="#111">MoS<tspan font-size="7" dy="2">2</tspan><tspan dy="-2">/LiF</tspan></text>
<text x="143.30" y="550.5" font-size="10.2" font-family="Liberation Sans" font-weight="bold" text-anchor="middle" fill="#111">MoS<tspan font-size="7" dy="2">2</tspan><tspan dy="-2">/NaF</tspan></text>
<text x="204.30" y="550.5" font-size="10.2" font-family="Liberation Sans" font-weight="bold" text-anchor="middle" fill="#111">MoS<tspan font-size="7" dy="2">2</tspan><tspan dy="-2">/KF</tspan></text>
<text transform="translate(17.6,458.0) rotate(-90)" font-size="14" font-family="Liberation Sans" font-weight="bold" text-anchor="middle" fill="#111">Mobility (cm<tspan font-size="8.5" dy="-5">2</tspan><tspan dy="5"> V</tspan><tspan font-size="8.5" dy="-5">−1</tspan><tspan dy="5"> s</tspan><tspan font-size="8.5" dy="-5">−1</tspan><tspan dy="5">)</tspan></text>
<line x1="307.9" y1="537.70" x2="310.5" y2="537.70" stroke="#111" stroke-width="1"/>
<text x="304.40" y="541.40" font-size="10.3" font-family="Liberation Sans" font-weight="bold" text-anchor="end" fill="#000" >0</text>
<line x1="307.9" y1="517.28" x2="310.5" y2="517.28" stroke="#111" stroke-width="1"/>
<text x="304.40" y="520.98" font-size="10.3" font-family="Liberation Sans" font-weight="bold" text-anchor="end" fill="#000" >5</text>
<line x1="307.9" y1="496.85" x2="310.5" y2="496.85" stroke="#111" stroke-width="1"/>
<text x="304.40" y="500.55" font-size="10.3" font-family="Liberation Sans" font-weight="bold" text-anchor="end" fill="#000" >10</text>
<line x1="307.9" y1="476.43" x2="310.5" y2="476.43" stroke="#111" stroke-width="1"/>
<text x="304.40" y="480.12" font-size="10.3" font-family="Liberation Sans" font-weight="bold" text-anchor="end" fill="#000" >15</text>
<line x1="307.9" y1="456.00" x2="310.5" y2="456.00" stroke="#111" stroke-width="1"/>
<text x="304.40" y="459.70" font-size="10.3" font-family="Liberation Sans" font-weight="bold" text-anchor="end" fill="#000" >20</text>
<line x1="307.9" y1="435.58" x2="310.5" y2="435.58" stroke="#111" stroke-width="1"/>
<text x="304.40" y="439.28" font-size="10.3" font-family="Liberation Sans" font-weight="bold" text-anchor="end" fill="#000" >25</text>
<line x1="307.9" y1="415.15" x2="310.5" y2="415.15" stroke="#111" stroke-width="1"/>
<text x="304.40" y="418.85" font-size="10.3" font-family="Liberation Sans" font-weight="bold" text-anchor="end" fill="#000" >30</text>
<line x1="307.9" y1="394.73" x2="310.5" y2="394.73" stroke="#111" stroke-width="1"/>
<text x="304.40" y="398.43" font-size="10.3" font-family="Liberation Sans" font-weight="bold" text-anchor="end" fill="#000" >35</text>
<line x1="307.9" y1="374.30" x2="310.5" y2="374.30" stroke="#111" stroke-width="1"/>
<text x="304.40" y="378.00" font-size="10.3" font-family="Liberation Sans" font-weight="bold" text-anchor="end" fill="#000" >40</text>
<line x1="307.9" y1="527.49" x2="309.29999999999995" y2="527.49" stroke="#111" stroke-width="1"/>
<line x1="307.9" y1="507.06" x2="309.29999999999995" y2="507.06" stroke="#111" stroke-width="1"/>
<line x1="307.9" y1="486.64" x2="309.29999999999995" y2="486.64" stroke="#111" stroke-width="1"/>
<line x1="307.9" y1="466.21" x2="309.29999999999995" y2="466.21" stroke="#111" stroke-width="1"/>
<line x1="307.9" y1="445.79" x2="309.29999999999995" y2="445.79" stroke="#111" stroke-width="1"/>
<line x1="307.9" y1="425.36" x2="309.29999999999995" y2="425.36" stroke="#111" stroke-width="1"/>
<line x1="307.9" y1="404.94" x2="309.29999999999995" y2="404.94" stroke="#111" stroke-width="1"/>
<line x1="307.9" y1="384.51" x2="309.29999999999995" y2="384.51" stroke="#111" stroke-width="1"/>
<rect x="314.7" y="468.25" width="24.60" height="69.45" fill="#aae6fa" stroke="#111" stroke-width="1"/>
<rect x="339.8" y="406.98" width="26.30" height="130.72" fill="#8c0082"/>
<rect x="379.8" y="512.17" width="24.70" height="25.53" fill="#aae6fa" stroke="#111" stroke-width="1"/>
<rect x="405.0" y="504.61" width="26.10" height="33.09" fill="#8c0082"/>
<rect x="444.0" y="479.69" width="24.90" height="58.01" fill="#aae6fa" stroke="#111" stroke-width="1"/>
<rect x="469.4" y="511.56" width="26.50" height="26.14" fill="#8c0082"/>
<line x1="372.4" y1="537.7" x2="372.4" y2="536.1" stroke="#111" stroke-width="1"/>
<line x1="437.0" y1="537.7" x2="437.0" y2="536.1" stroke="#111" stroke-width="1"/>
<rect x="307.9" y="374.3" width="194.5" height="163.40000000000003" fill="none" stroke="#111" stroke-width="1.3"/>
<rect x="312.7" y="380.2" width="17.6" height="9" fill="#aae6fa" stroke="#333" stroke-width="1"/>
<rect x="312.2" y="395.5" width="18.7" height="9.1" fill="#8c0082"/>
<text x="333.8" y="387.6" font-size="10.2" font-family="Liberation Sans" fill="#222">MoS<tspan font-size="7.5" dy="2">2</tspan></text>
<text x="334.4" y="402" font-size="10.2" font-family="Liberation Sans" fill="#222">Doped MoS<tspan font-size="7.5" dy="2">2</tspan></text>
<text x="340.40" y="550.5" font-size="10.2" font-family="Liberation Sans" font-weight="bold" text-anchor="middle" fill="#111">MoS<tspan font-size="7" dy="2">2</tspan><tspan dy="-2">/LiF</tspan></text>
<text x="405.00" y="550.5" font-size="10.2" font-family="Liberation Sans" font-weight="bold" text-anchor="middle" fill="#111">MoS<tspan font-size="7" dy="2">2</tspan><tspan dy="-2">/NaF</tspan></text>
<text x="470.50" y="550.5" font-size="10.2" font-family="Liberation Sans" font-weight="bold" text-anchor="middle" fill="#111">MoS<tspan font-size="7" dy="2">2</tspan><tspan dy="-2">/KF</tspan></text>
<text transform="translate(284.7,456.4) rotate(-90)" font-size="14" font-family="Liberation Sans" font-weight="bold" text-anchor="middle" fill="#111">I<tspan font-size="9" dy="3">d</tspan><tspan dy="-3"> (µA/µm)</tspan></text>
<ellipse cx="656.0" cy="431.0" rx="63.5" ry="9.8" transform="rotate(-39.8 656.0 431.0)" fill="#d8bfe6" fill-opacity="1"/>
<ellipse cx="705.7" cy="430.8" rx="55.5" ry="12.8" transform="rotate(-45.4 705.7 430.8)" fill="#fbc9b0" fill-opacity="1"/>
<ellipse cx="588.8" cy="397.2" rx="15.5" ry="4.6" transform="rotate(0 588.8 397.2)" fill="#dcefd0" fill-opacity="1"/>
<ellipse cx="619.4" cy="397.2" rx="17.3" ry="5.8" transform="rotate(0 619.4 397.2)" fill="#c6d2bd" fill-opacity="1"/>
<ellipse cx="636.9" cy="467.5" rx="14.4" ry="3.9" transform="rotate(0 636.9 467.5)" fill="#fff6cf" fill-opacity="1"/>
<ellipse cx="660.1" cy="466.2" rx="6.9" ry="5.3" transform="rotate(0 660.1 466.2)" fill="#ffc0f0" fill-opacity="1"/>
<ellipse cx="583.2" cy="509.5" rx="9.2" ry="2.6" transform="rotate(0 583.2 509.5)" fill="#ffb4b4" fill-opacity="1"/>
<ellipse cx="604.6" cy="512.8" rx="9.8" ry="2.3" transform="rotate(0 604.6 512.8)" fill="#a8e2f8" fill-opacity="1"/>
<ellipse cx="594.5" cy="506.3" rx="2.9" ry="11.8" transform="rotate(0 594.5 506.3)" fill="#8090c4" fill-opacity="1"/>
<text transform="translate(655.4,433.8) rotate(-40)" font-size="8.7" font-family="Liberation Sans" text-anchor="middle" fill="#222">This work</text>
<text transform="translate(709.8,429.8) rotate(-45)" font-size="8.7" font-family="Liberation Sans" text-anchor="middle" fill="#222">This work</text>
<polygon points="581.90,399.95 588.70,399.95 585.30,394.17" fill="none" stroke="#22ee22" stroke-width="1"/>
<polygon points="594.90,399.95 601.70,399.95 598.30,394.17" fill="#11dd11" stroke="#11dd11" stroke-width="1"/>
<polygon points="603.5,397.2 607.1,393.59999999999997 610.7,397.2 607.1,400.8" fill="none" stroke="#7a7a20" stroke-width="1"/>
<polygon points="622.5,397.2 626.3,393.4 630.0999999999999,397.2 626.3,401.0" fill="#6b6b12" stroke="#6b6b12" stroke-width="1"/>
<polygon points="696.20,393.20 697.19,395.84 700.00,395.96 697.80,397.72 698.55,400.44 696.20,398.88 693.85,400.44 694.60,397.72 692.40,395.96 695.21,395.84" fill="#8a0a8a" stroke="#8a0a8a" stroke-width="0.5"/>
<polygon points="740.20,401.00 736.91,399.10 736.91,395.30 740.20,393.40 743.49,395.30 743.49,399.10" fill="#a50a0a" stroke="#a50a0a" stroke-width="1"/>
<polygon points="613.10,463.50 614.04,466.01 616.71,466.13 614.62,467.79 615.33,470.37 613.10,468.90 610.87,470.37 611.58,467.79 609.49,466.13 612.16,466.01" fill="none" stroke="#a020a0" stroke-width="0.9"/>
<polygon points="633.50,464.00 636.64,466.28 635.44,469.97 631.56,469.97 630.36,466.28" fill="none" stroke="#ffff60" stroke-width="1"/>
<polygon points="642.90,463.70 646.32,466.19 645.02,470.21 640.78,470.21 639.48,466.19" fill="#ffff40" stroke="#ffff40" stroke-width="1"/>
<circle cx="663.3" cy="466.7" r="3.1" fill="#ff30c0"/><circle cx="662.6" cy="465.8" r="1" fill="#ffd0f0"/>
<polygon points="670.60,470.90 667.48,469.10 667.48,465.50 670.60,463.70 673.72,465.50 673.72,469.10" fill="none" stroke="#e03030" stroke-width="0.9"/>
<rect x="582.9" y="507.2" width="5" height="5" fill="none" stroke="#ff4040" stroke-width="0.9"/>
<polygon points="591.30,509.42 597.90,509.42 594.60,515.03" fill="#11dddd" stroke="#11dddd" stroke-width="1"/>
<circle cx="596.9" cy="511.6" r="2.9" fill="#1030f0"/>
<circle cx="594.2" cy="506.3" r="2.9" fill="none" stroke="#2020e0" stroke-width="0.9"/>
<text x="580.2" y="505.2" font-size="7.8" font-family="Liberation Sans" text-anchor="middle" fill="#333">[49]</text>
<text x="607.4" y="511.0" font-size="7.8" font-family="Liberation Sans" text-anchor="middle" fill="#333">[46]</text>
<text x="598.1" y="526.9" font-size="7.8" font-family="Liberation Sans" text-anchor="middle" fill="#333">[50]</text>
<text x="660.4" y="480.0" font-size="7.8" font-family="Liberation Sans" text-anchor="middle" fill="#333">[34]</text>
<text x="597.0" y="409.8" font-size="7.8" font-family="Liberation Sans" text-anchor="middle" fill="#333">[47]</text>
<text x="627.3" y="411.4" font-size="7.8" font-family="Liberation Sans" text-anchor="middle" fill="#333">[53]</text>
<rect x="562.1" y="375.4" width="194.10000000000002" height="158.39999999999998" fill="none" stroke="#111" stroke-width="1.3"/>
<line x1="573.45" y1="533.8" x2="573.45" y2="532.4" stroke="#111" stroke-width="1"/>
<line x1="584.80" y1="533.8" x2="584.80" y2="531.1999999999999" stroke="#111" stroke-width="1"/>
<line x1="596.15" y1="533.8" x2="596.15" y2="532.4" stroke="#111" stroke-width="1"/>
<line x1="607.50" y1="533.8" x2="607.50" y2="531.1999999999999" stroke="#111" stroke-width="1"/>
<line x1="618.85" y1="533.8" x2="618.85" y2="532.4" stroke="#111" stroke-width="1"/>
<line x1="630.20" y1="533.8" x2="630.20" y2="531.1999999999999" stroke="#111" stroke-width="1"/>
<line x1="641.55" y1="533.8" x2="641.55" y2="532.4" stroke="#111" stroke-width="1"/>
<line x1="652.90" y1="533.8" x2="652.90" y2="531.1999999999999" stroke="#111" stroke-width="1"/>
<line x1="664.25" y1="533.8" x2="664.25" y2="532.4" stroke="#111" stroke-width="1"/>
<line x1="675.60" y1="533.8" x2="675.60" y2="531.1999999999999" stroke="#111" stroke-width="1"/>
<line x1="686.95" y1="533.8" x2="686.95" y2="532.4" stroke="#111" stroke-width="1"/>
<line x1="698.30" y1="533.8" x2="698.30" y2="531.1999999999999" stroke="#111" stroke-width="1"/>
<line x1="709.65" y1="533.8" x2="709.65" y2="532.4" stroke="#111" stroke-width="1"/>
<line x1="721.00" y1="533.8" x2="721.00" y2="531.1999999999999" stroke="#111" stroke-width="1"/>
<line x1="732.35" y1="533.8" x2="732.35" y2="532.4" stroke="#111" stroke-width="1"/>
<line x1="743.70" y1="533.8" x2="743.70" y2="531.1999999999999" stroke="#111" stroke-width="1"/>
<line x1="755.05" y1="533.8" x2="755.05" y2="532.4" stroke="#111" stroke-width="1"/>
<text x="562.10" y="545.80" font-size="10.3" font-family="Liberation Sans" font-weight="bold" text-anchor="middle" fill="#000" >-20</text>
<text x="584.80" y="545.80" font-size="10.3" font-family="Liberation Sans" font-weight="bold" text-anchor="middle" fill="#000" >0</text>
<text x="607.50" y="545.80" font-size="10.3" font-family="Liberation Sans" font-weight="bold" text-anchor="middle" fill="#000" >20</text>
<text x="630.20" y="545.80" font-size="10.3" font-family="Liberation Sans" font-weight="bold" text-anchor="middle" fill="#000" >40</text>
<text x="652.90" y="545.80" font-size="10.3" font-family="Liberation Sans" font-weight="bold" text-anchor="middle" fill="#000" >60</text>
<text x="675.60" y="545.80" font-size="10.3" font-family="Liberation Sans" font-weight="bold" text-anchor="middle" fill="#000" >80</text>
<text x="698.30" y="545.80" font-size="10.3" font-family="Liberation Sans" font-weight="bold" text-anchor="middle" fill="#000" >100</text>
<text x="721.00" y="545.80" font-size="10.3" font-family="Liberation Sans" font-weight="bold" text-anchor="middle" fill="#000" >120</text>
<text x="743.70" y="545.80" font-size="10.3" font-family="Liberation Sans" font-weight="bold" text-anchor="middle" fill="#000" >140</text>
<line x1="562.1" y1="397.4" x2="564.7" y2="397.4" stroke="#111" stroke-width="1"/>
<text x="558.30" y="401.10" font-size="10.3" font-family="Liberation Sans" font-weight="bold" text-anchor="end" fill="#000" >1E+07</text>
<line x1="562.1" y1="466.9" x2="564.7" y2="466.9" stroke="#111" stroke-width="1"/>
<text x="558.30" y="470.60" font-size="10.3" font-family="Liberation Sans" font-weight="bold" text-anchor="end" fill="#000" >1E+06</text>
<line x1="562.1" y1="511.4" x2="564.7" y2="511.4" stroke="#111" stroke-width="1"/>
<text x="558.30" y="515.10" font-size="10.3" font-family="Liberation Sans" font-weight="bold" text-anchor="end" fill="#000" >0E+00</text>
<line x1="562.1" y1="444.2" x2="563.5" y2="444.2" stroke="#111" stroke-width="1"/>
<line x1="562.1" y1="489.1" x2="563.5" y2="489.1" stroke="#111" stroke-width="1"/>
<rect x="560.1" y="419.6" width="4" height="3.6" fill="#fff"/>
<line x1="559.1" y1="420.9" x2="565.1" y2="418.3" stroke="#111" stroke-width="0.9"/>
<line x1="559.1" y1="424.3" x2="565.1" y2="421.7" stroke="#111" stroke-width="0.9"/>
<rect x="754.2" y="419.6" width="4" height="3.6" fill="#fff"/>
<line x1="753.2" y1="420.9" x2="759.2" y2="418.3" stroke="#111" stroke-width="0.9"/>
<line x1="753.2" y1="424.3" x2="759.2" y2="421.7" stroke="#111" stroke-width="0.9"/>
<rect x="704.0" y="458.59999999999997" width="5.2" height="5.2" fill="#ff3030"/>
<circle cx="706.6" cy="469.3" r="3" fill="#0a0af5"/>
<polygon points="703.20,480.35 710.00,480.35 706.60,474.57" fill="#11ee11" stroke="#11ee11" stroke-width="0.3"/>
<polygon points="703.20,482.85 710.00,482.85 706.60,488.63" fill="#11eeee" stroke="#11eeee" stroke-width="0.3"/>
<polygon points="703.1,493.9 706.6,490.4 710.1,493.9 706.6,497.4" fill="#707014" stroke="#707014" stroke-width="0.3"/>
<polygon points="706.60,505.10 703.57,503.35 703.57,499.85 706.60,498.10 709.63,499.85 709.63,503.35" fill="#a00808" stroke="#a00808" stroke-width="0.3"/>
<polygon points="706.60,506.50 707.54,509.01 710.21,509.13 708.12,510.79 708.83,513.37 706.60,511.90 704.37,513.37 705.08,510.79 702.99,509.13 705.66,509.01" fill="#8a0a8a" stroke="#8a0a8a" stroke-width="0.3"/>
<polygon points="706.60,515.50 709.83,517.85 708.60,521.65 704.60,521.65 703.37,517.85" fill="#ffff50" stroke="#ffff50" stroke-width="0.3"/>
<circle cx="706.6" cy="527.4" r="3" fill="#ff30c0"/><circle cx="706.1" cy="526.6" r="1" fill="#ffe0f4"/>
<text x="715.4" y="463.5" font-size="6.3" font-family="Liberation Sans" fill="#333">PTCDI</text>
<text x="715.4" y="471.6" font-size="6.3" font-family="Liberation Sans" fill="#333">Al2O3</text>
<text x="715.4" y="479.8" font-size="6.3" font-family="Liberation Sans" fill="#333">HfO2</text>
<text x="715.4" y="488.0" font-size="6.3" font-family="Liberation Sans" fill="#333">C60</text>
<text x="715.4" y="496.2" font-size="6.3" font-family="Liberation Sans" fill="#333">PVA</text>
<text x="715.4" y="503.90000000000003" font-size="6.3" font-family="Liberation Sans" fill="#333">LiF</text>
<text x="715.4" y="512.6" font-size="6.3" font-family="Liberation Sans" fill="#333">LiF(P-MoS<tspan font-size="4.5" dy="1.3">2</tspan><tspan dy="-1.3">)</tspan></text>
<text x="715.4" y="521.1999999999999" font-size="6.3" font-family="Liberation Sans" fill="#333">NaF</text>
<text x="715.4" y="529.6999999999999" font-size="6.3" font-family="Liberation Sans" fill="#333">hBN</text>
<text transform="translate(520.8,456) rotate(-90)" font-size="14" font-family="Liberation Sans" font-weight="bold" text-anchor="middle" fill="#111">I<tspan font-size="9.5" dy="3">on</tspan><tspan dy="-3" dx="1.5"> / </tspan><tspan dx="1">I</tspan><tspan font-size="9.5" dy="3">off</tspan></text>
<text x="658.8" y="567.2" font-size="13" font-family="Liberation Sans" font-weight="bold" text-anchor="middle" fill="#111">µ (cm<tspan font-size="8" dy="-5">2</tspan><tspan dy="5">/Vs)</tspan></text>
</svg></body></html>
